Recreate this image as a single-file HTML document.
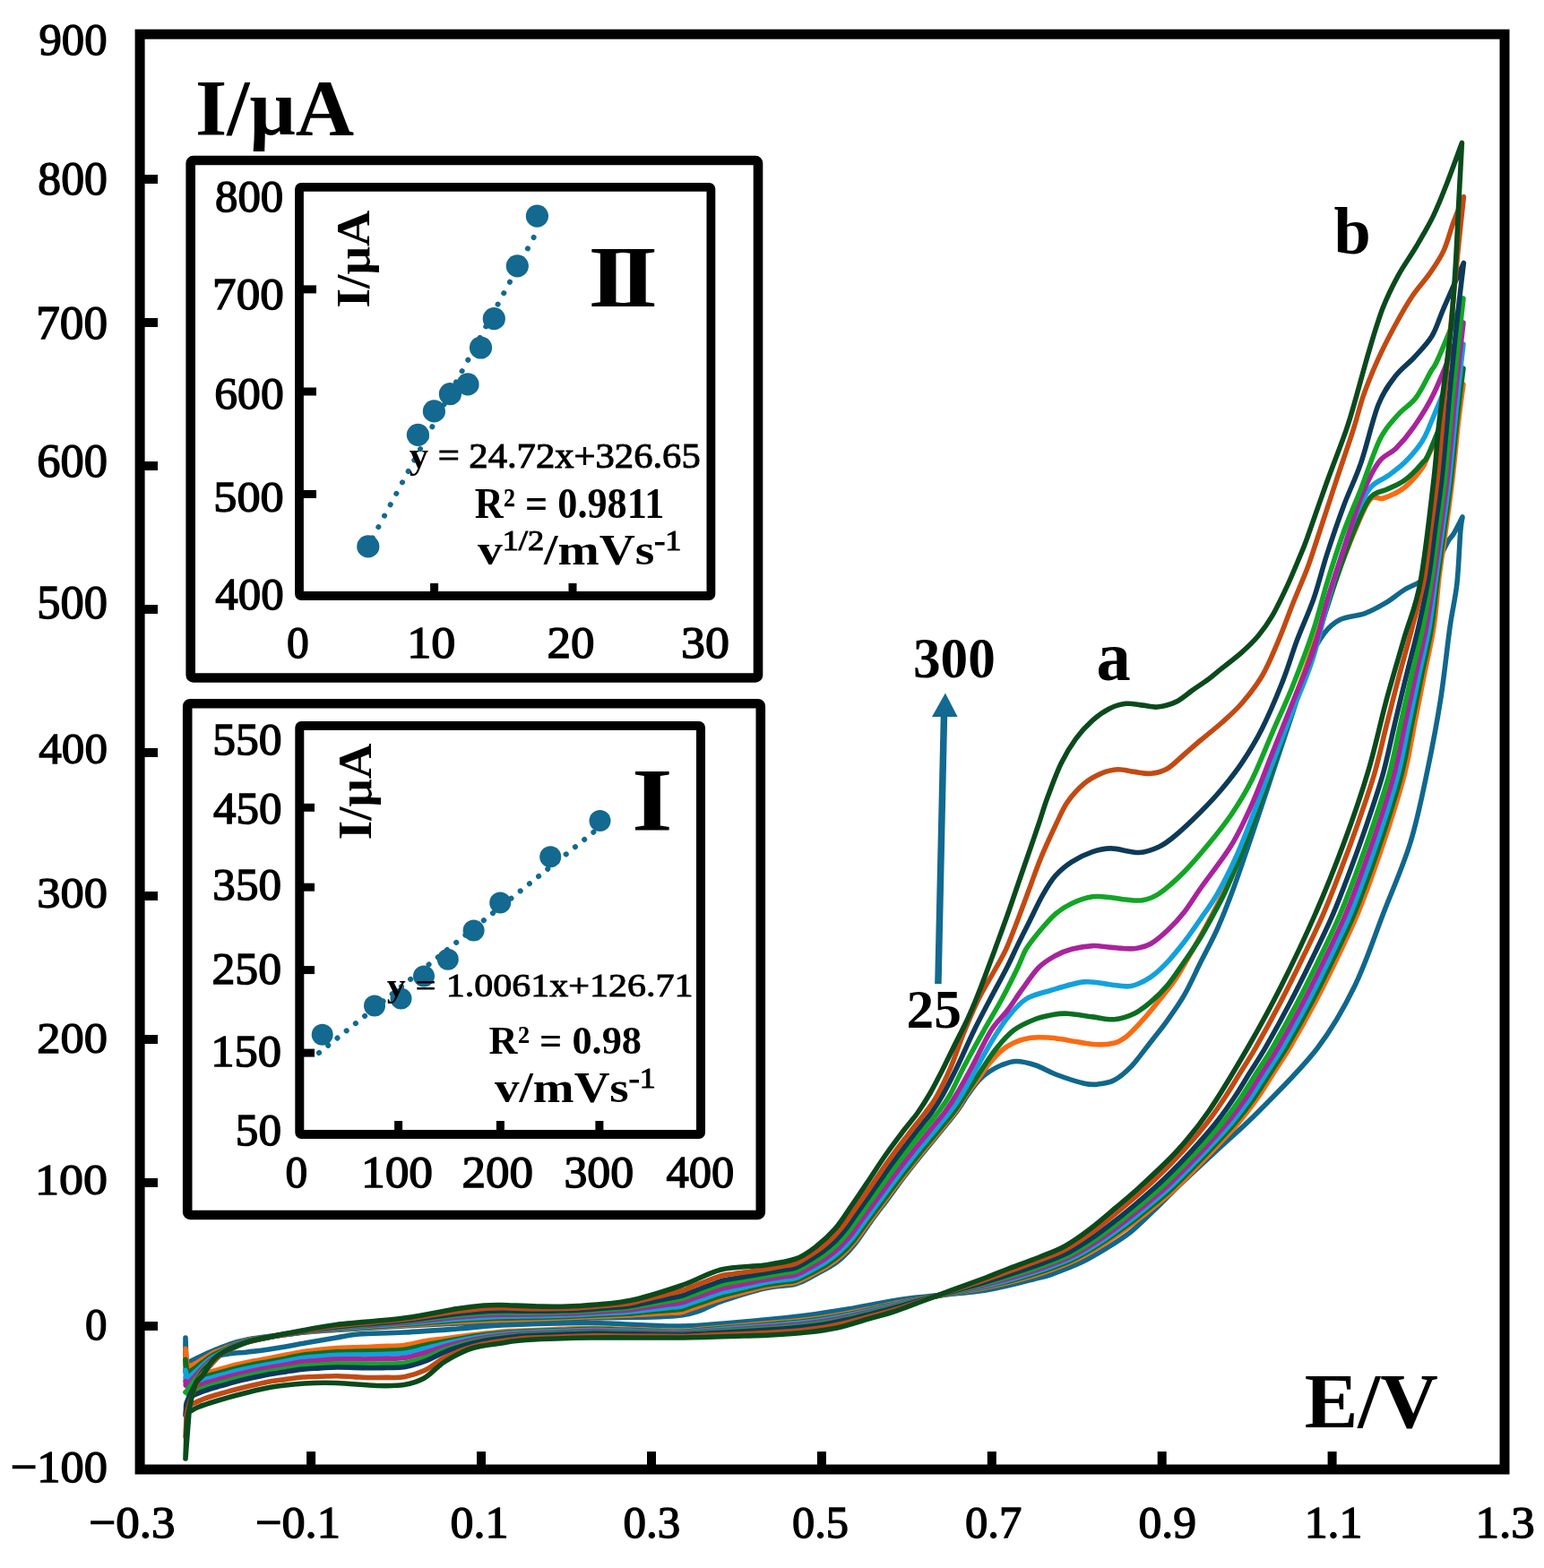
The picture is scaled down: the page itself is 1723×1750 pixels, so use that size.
<!DOCTYPE html><html><head><meta charset="utf-8"><title>CV</title><style>html,body{margin:0;padding:0;background:#fff;}svg{display:block;}text{font-family:"Liberation Serif","DejaVu Serif",serif;fill:#000;}</style></head><body>
<svg width="1723" height="1750" viewBox="0 0 1723 1750">
<rect x="0" y="0" width="1723" height="1750" fill="#fff"/>
<g fill="none" stroke-width="5.6" stroke-linejoin="round" stroke-linecap="round">
<path d="M207.0,1493.0 C207.1,1497.7 206.5,1516.7 207.5,1521.0 C208.5,1525.3 207.4,1521.5 213.0,1519.0 C218.6,1516.5 230.5,1510.0 241.0,1506.0 C251.5,1502.0 259.5,1498.2 276.0,1495.0 C292.5,1491.8 319.3,1489.0 340.0,1487.0 C360.7,1485.0 381.5,1484.2 400.0,1483.0 C418.5,1481.8 432.5,1481.0 451.0,1480.0 C469.5,1479.0 492.8,1477.8 511.0,1477.0 C529.2,1476.2 535.2,1476.0 560.0,1475.0 C584.8,1474.0 626.7,1472.2 660.0,1471.0 C693.3,1469.8 735.7,1471.2 760.0,1468.0 C784.3,1464.8 790.5,1457.0 806.0,1452.0 C821.5,1447.0 839.3,1441.2 853.0,1438.0 C866.7,1434.8 878.3,1435.7 888.0,1433.0 C897.7,1430.3 903.3,1426.1 911.0,1422.0 C918.7,1417.9 927.0,1413.9 934.0,1408.6 C941.0,1403.3 946.5,1397.4 952.7,1390.0 C958.9,1382.6 965.1,1372.5 971.3,1364.0 C977.5,1355.5 983.8,1347.3 990.0,1339.0 C996.2,1330.7 1001.9,1322.5 1008.4,1314.0 C1014.9,1305.5 1021.7,1297.0 1029.0,1288.0 C1036.3,1279.0 1045.5,1268.0 1052.0,1260.0 C1058.5,1252.0 1063.3,1246.3 1068.0,1240.0 C1072.7,1233.7 1076.0,1227.7 1080.0,1222.0 C1084.0,1216.3 1088.0,1210.3 1092.0,1206.0 C1096.0,1201.7 1099.8,1198.8 1104.0,1196.0 C1108.2,1193.2 1112.0,1190.9 1117.0,1189.0 C1122.0,1187.1 1127.5,1184.5 1134.0,1184.5 C1140.5,1184.5 1148.7,1186.6 1156.0,1189.0 C1163.3,1191.4 1169.0,1195.6 1178.0,1199.0 C1187.0,1202.4 1202.2,1207.4 1210.0,1209.2 C1217.8,1211.0 1219.3,1210.7 1224.9,1210.1 C1230.5,1209.5 1237.2,1208.8 1243.4,1205.5 C1249.6,1202.2 1255.2,1197.7 1262.0,1190.6 C1268.8,1183.5 1277.5,1171.4 1284.3,1162.7 C1291.1,1154.0 1296.7,1147.3 1302.9,1138.6 C1309.1,1129.9 1315.3,1121.5 1321.5,1110.7 C1327.7,1099.9 1333.8,1086.0 1340.0,1073.6 C1346.2,1061.2 1352.4,1050.3 1358.6,1036.4 C1364.8,1022.5 1370.6,1007.5 1377.0,990.0 C1383.4,972.5 1390.0,952.8 1397.2,931.6 C1404.4,910.4 1412.4,885.9 1420.0,863.0 C1427.6,840.1 1436.0,815.4 1442.9,794.4 C1449.8,773.4 1455.5,751.7 1461.2,737.2 C1466.9,722.7 1471.5,715.1 1477.2,707.5 C1482.9,699.9 1487.9,695.3 1495.5,691.5 C1503.1,687.7 1514.6,687.6 1523.0,684.6 C1531.4,681.6 1538.4,677.6 1545.8,673.2 C1553.2,668.8 1560.3,662.5 1567.5,658.0 C1574.7,653.5 1582.7,651.8 1588.9,646.3 C1595.2,640.8 1600.5,632.0 1605.0,625.0 C1609.5,618.0 1613.2,608.8 1616.0,604.0 C1618.8,599.2 1619.3,600.5 1622.0,596.0 C1624.7,591.5 1630.3,580.2 1632.0,577.0 L1632.0,577.0 C1631.6,579.8 1630.7,581.5 1629.7,594.0 C1628.7,606.5 1627.8,634.3 1625.8,652.0 C1623.8,669.7 1621.0,678.7 1618.0,700.0 C1615.0,721.3 1611.9,753.3 1607.7,780.0 C1603.5,806.7 1598.5,833.3 1592.9,860.0 C1587.3,886.7 1582.2,913.3 1574.0,940.0 C1565.8,966.7 1553.8,993.3 1543.5,1020.0 C1533.2,1046.7 1524.2,1075.0 1512.0,1100.0 C1499.8,1125.0 1487.8,1146.7 1470.0,1170.0 C1452.2,1193.3 1423.2,1221.5 1405.0,1240.0 C1386.8,1258.5 1375.7,1267.3 1361.0,1281.0 C1346.3,1294.7 1329.3,1310.2 1317.0,1322.0 C1304.7,1333.8 1296.2,1342.7 1287.0,1351.5 C1277.8,1360.3 1270.8,1367.7 1262.0,1374.7 C1253.2,1381.7 1243.6,1387.6 1234.3,1393.3 C1225.0,1399.0 1216.5,1404.2 1206.4,1409.0 C1196.3,1413.8 1181.6,1419.2 1173.9,1422.0 C1166.2,1424.8 1172.3,1423.0 1160.0,1426.0 C1147.7,1429.0 1124.2,1436.2 1100.0,1440.0 C1075.8,1443.8 1040.7,1445.5 1015.0,1449.0 C989.3,1452.5 965.2,1457.8 946.0,1461.0 C926.8,1464.2 915.5,1466.0 900.0,1468.0 C884.5,1470.0 876.3,1471.0 853.0,1473.0 C829.7,1475.0 792.2,1479.4 760.0,1480.0 C727.8,1480.6 693.3,1476.7 660.0,1476.5 C626.7,1476.3 584.8,1477.9 560.0,1479.0 C535.2,1480.1 529.2,1481.7 511.0,1483.0 C492.8,1484.3 469.5,1486.0 451.0,1487.0 C432.5,1488.0 412.7,1488.0 400.0,1489.0 C387.3,1490.0 385.0,1491.3 375.0,1493.0 C365.0,1494.7 352.5,1496.8 340.0,1499.0 C327.5,1501.2 310.7,1504.3 300.0,1506.0 C289.3,1507.7 282.8,1508.2 276.0,1509.0 C269.2,1509.8 265.7,1509.7 259.0,1510.5 C252.3,1511.3 243.3,1512.6 236.0,1514.0 C228.7,1515.4 219.7,1517.5 215.0,1519.0 C210.3,1520.5 209.2,1522.3 208.0,1523.0 L207,1493.0" stroke="#10678c"/>
<path d="M207.0,1505.2 C207.0,1506.8 207.2,1511.9 207.3,1515.3 C207.4,1518.6 206.0,1524.1 207.5,1525.4 C209.1,1526.6 213.1,1524.1 216.4,1522.6 C219.7,1521.0 223.6,1518.3 227.3,1516.2 C230.9,1514.0 234.4,1511.7 238.3,1509.8 C242.1,1507.9 246.3,1506.6 250.3,1505.0 C254.3,1503.4 258.2,1501.7 262.2,1500.2 C266.3,1498.7 270.5,1497.1 274.7,1496.1 C279.0,1495.0 283.3,1494.6 287.7,1493.9 C292.0,1493.2 296.4,1492.7 300.7,1492.1 C305.1,1491.5 309.4,1490.8 313.8,1490.3 C318.2,1489.7 322.5,1489.1 326.9,1488.5 C331.3,1487.9 335.0,1487.3 340.0,1486.8 C345.0,1486.2 351.3,1485.9 356.9,1485.4 C362.5,1485.0 368.2,1484.6 373.8,1484.1 C379.4,1483.7 385.1,1483.3 390.7,1483.0 C396.4,1482.6 402.0,1482.2 407.6,1481.8 C413.3,1481.5 418.9,1481.1 424.6,1480.8 C430.2,1480.4 435.9,1480.1 441.5,1479.7 C447.1,1479.3 452.8,1479.0 458.4,1478.6 C464.1,1478.3 469.7,1477.9 475.3,1477.6 C481.0,1477.2 486.6,1476.9 492.3,1476.5 C497.9,1476.2 503.5,1475.8 509.2,1475.5 C514.8,1475.1 520.5,1474.9 526.1,1474.6 C531.8,1474.3 537.4,1474.1 543.1,1473.8 C548.7,1473.6 554.6,1473.3 560.0,1473.2 C565.4,1473.0 570.3,1472.8 575.4,1472.7 C580.5,1472.5 585.7,1472.3 590.8,1472.2 C596.0,1472.0 601.1,1471.8 606.2,1471.6 C611.4,1471.4 616.5,1471.3 621.6,1471.1 C626.8,1470.9 631.9,1470.7 637.1,1470.5 C642.2,1470.3 647.3,1470.1 652.5,1469.8 C657.6,1469.6 662.7,1469.4 667.9,1469.2 C673.0,1469.0 678.1,1468.8 683.3,1468.6 C688.4,1468.4 693.6,1468.3 698.7,1468.0 C703.8,1467.8 708.9,1467.5 714.0,1467.2 C719.2,1466.9 724.3,1466.6 729.4,1466.4 C734.5,1466.1 739.6,1465.8 744.7,1465.5 C749.9,1465.2 755.9,1465.3 760.1,1464.7 C764.3,1464.0 766.5,1462.4 769.7,1461.3 C773.0,1460.2 776.2,1459.1 779.4,1458.0 C782.6,1456.9 785.8,1455.8 789.0,1454.7 C792.2,1453.6 795.4,1452.5 798.7,1451.4 C801.9,1450.3 805.1,1449.3 808.4,1448.3 C811.6,1447.3 814.9,1446.5 818.2,1445.6 C821.5,1444.7 824.7,1443.8 828.0,1442.9 C831.3,1442.0 834.6,1441.1 837.9,1440.2 C841.1,1439.3 844.4,1438.3 847.7,1437.5 C851.0,1436.7 854.3,1436.0 857.6,1435.4 C861.0,1434.8 864.4,1434.5 867.8,1434.0 C871.1,1433.5 874.5,1433.1 877.9,1432.6 C881.3,1432.1 883.3,1432.9 888.0,1431.2 C892.7,1429.5 900.3,1425.5 906.3,1422.4 C912.3,1419.3 918.4,1416.2 924.0,1412.5 C929.7,1408.8 935.1,1404.8 940.1,1400.3 C945.1,1395.8 949.7,1390.8 954.0,1385.5 C958.4,1380.3 961.9,1374.5 965.9,1369.0 C970.0,1363.5 974.0,1358.1 978.1,1352.6 C982.1,1347.2 986.2,1341.8 990.3,1336.3 C994.4,1330.9 998.3,1325.3 1002.5,1319.9 C1006.6,1314.5 1010.7,1309.1 1015.0,1303.7 C1019.2,1298.3 1023.4,1293.0 1027.7,1287.7 C1032.0,1282.4 1036.4,1277.2 1040.8,1271.9 C1045.1,1266.6 1049.5,1261.4 1053.8,1256.0 C1058.1,1250.7 1062.5,1245.9 1066.7,1240.1 C1070.9,1234.2 1074.6,1227.3 1079.0,1221.0 C1083.4,1214.7 1088.8,1207.7 1093.0,1202.0 C1097.2,1196.3 1100.0,1191.8 1104.0,1187.0 C1108.0,1182.2 1112.5,1176.8 1117.0,1173.0 C1121.5,1169.2 1125.5,1166.5 1131.0,1164.0 C1136.5,1161.5 1143.5,1159.3 1150.0,1158.3 C1156.5,1157.3 1163.1,1157.6 1170.0,1158.0 C1176.9,1158.4 1183.2,1159.7 1191.4,1160.9 C1199.6,1162.2 1210.9,1164.9 1219.3,1165.5 C1227.7,1166.1 1235.4,1166.0 1241.6,1164.6 C1247.8,1163.2 1250.9,1161.5 1256.5,1157.2 C1262.1,1152.9 1268.8,1145.4 1275.0,1138.6 C1281.2,1131.8 1287.4,1124.0 1293.6,1116.3 C1299.8,1108.6 1306.0,1101.5 1312.2,1092.2 C1318.4,1082.9 1324.5,1071.4 1330.7,1060.6 C1336.9,1049.8 1343.1,1038.9 1349.3,1027.1 C1355.5,1015.3 1361.1,1005.4 1367.9,990.0 C1374.7,974.6 1383.0,953.3 1390.0,935.0 C1397.0,916.7 1403.3,898.8 1410.0,880.0 C1416.7,861.2 1423.3,841.2 1430.0,822.0 C1436.7,802.8 1443.3,784.0 1450.0,765.0 C1456.7,746.0 1463.3,727.5 1470.0,708.0 C1476.7,688.5 1483.3,666.5 1490.0,648.0 C1496.7,629.5 1503.6,612.0 1510.0,597.0 C1516.4,582.0 1522.9,564.8 1528.6,558.0 C1534.3,551.2 1537.6,558.3 1544.1,556.0 C1550.6,553.7 1560.4,549.6 1567.5,544.0 C1574.6,538.4 1582.4,528.7 1586.9,522.5 C1591.4,516.3 1587.0,522.6 1594.7,507.0 C1602.4,491.4 1626.6,442.0 1633.0,429.0 L1633.0,429.0 C1632.8,430.7 1632.1,435.8 1631.6,439.2 C1631.1,442.6 1630.7,446.0 1630.2,449.4 C1629.8,452.8 1629.3,456.2 1628.9,459.6 C1628.4,463.0 1628.0,466.4 1627.6,469.8 C1627.2,473.2 1627.6,469.1 1626.5,480.0 C1625.4,490.9 1623.0,516.7 1620.8,535.1 C1618.7,553.4 1616.1,571.6 1613.6,589.9 C1611.1,608.2 1608.2,626.4 1605.9,644.7 C1603.7,663.0 1602.8,681.5 1600.0,699.8 C1597.2,718.0 1592.8,735.9 1589.2,754.0 C1585.6,772.1 1582.1,790.3 1578.5,808.4 C1574.9,826.5 1572.1,844.7 1567.7,862.6 C1563.3,880.5 1557.7,898.2 1552.1,915.7 C1546.6,933.3 1540.6,950.8 1534.4,968.2 C1528.3,985.5 1522.1,1003.0 1515.0,1020.0 C1507.9,1037.0 1499.8,1053.6 1491.8,1070.2 C1483.8,1086.8 1475.6,1103.4 1467.0,1119.7 C1458.4,1136.0 1447.6,1155.1 1440.0,1168.0 C1432.4,1180.9 1427.6,1187.3 1421.5,1197.0 C1415.3,1206.7 1409.5,1216.7 1402.9,1226.0 C1396.4,1235.4 1389.3,1244.4 1382.0,1253.1 C1374.6,1261.9 1366.6,1270.2 1358.7,1278.5 C1350.8,1286.9 1342.8,1295.1 1334.8,1303.2 C1326.7,1311.4 1318.9,1319.8 1310.4,1327.6 C1302.0,1335.3 1293.1,1342.6 1284.2,1349.8 C1275.3,1357.1 1266.2,1364.1 1257.0,1370.9 C1247.7,1377.6 1238.3,1384.3 1228.6,1390.3 C1218.8,1396.3 1208.9,1402.2 1198.6,1407.0 C1188.2,1411.9 1177.3,1415.8 1166.5,1419.5 C1155.7,1423.2 1144.6,1426.5 1133.6,1429.4 C1122.5,1432.3 1109.9,1434.9 1100.0,1437.0 C1090.1,1439.1 1082.7,1440.3 1074.0,1441.8 C1065.3,1443.3 1056.6,1444.8 1047.9,1446.2 C1039.2,1447.7 1030.5,1449.0 1021.8,1450.5 C1013.1,1452.0 1004.5,1453.5 995.8,1455.3 C987.2,1457.0 978.6,1459.0 969.9,1460.8 C961.3,1462.6 952.7,1464.4 944.0,1466.0 C935.3,1467.6 926.7,1469.1 917.9,1470.4 C909.2,1471.7 900.5,1472.8 891.7,1473.7 C883.0,1474.7 874.2,1475.3 865.4,1476.1 C856.6,1476.9 847.8,1477.7 839.0,1478.4 C830.2,1479.2 821.5,1480.0 812.7,1480.8 C803.9,1481.6 795.1,1482.4 786.3,1483.1 C777.6,1483.9 768.4,1485.2 760.0,1485.5 C751.6,1485.8 744.1,1484.9 736.1,1484.7 C728.2,1484.4 720.2,1484.1 712.3,1483.8 C704.3,1483.6 696.4,1483.3 688.4,1483.0 C680.5,1482.7 672.5,1482.2 664.6,1482.2 C656.6,1482.1 648.7,1482.5 640.7,1482.8 C632.8,1483.0 624.8,1483.4 616.9,1483.7 C608.9,1484.0 601.0,1484.4 593.0,1484.7 C585.1,1485.0 577.1,1485.1 569.2,1485.6 C561.3,1486.1 553.3,1486.9 545.4,1487.7 C537.5,1488.5 529.6,1489.6 521.7,1490.6 C513.8,1491.6 506.0,1492.7 498.1,1493.7 C490.2,1494.8 482.2,1495.5 474.4,1496.8 C466.6,1498.1 458.0,1500.6 451.0,1501.5 C444.0,1502.4 438.4,1502.1 432.1,1502.4 C425.9,1502.7 419.6,1503.0 413.3,1503.2 C407.0,1503.5 400.7,1503.6 394.4,1503.9 C388.1,1504.1 381.8,1504.1 375.5,1504.5 C369.3,1504.9 363.0,1505.7 356.8,1506.3 C350.5,1507.0 344.2,1507.4 338.0,1508.4 C331.8,1509.4 325.7,1510.9 319.5,1512.1 C313.3,1513.3 307.1,1514.6 301.0,1515.8 C294.8,1517.0 288.6,1517.9 282.4,1519.1 C276.2,1520.4 270.1,1521.7 264.0,1523.1 C257.8,1524.6 251.8,1526.3 245.7,1528.0 C239.6,1529.7 233.5,1531.1 227.5,1533.1 C221.6,1535.1 212.9,1538.9 210.0,1540.0 L207,1505.2" stroke="#fb6a12"/>
<path d="M207.0,1517.3 C207.1,1518.5 207.2,1522.3 207.3,1524.8 C207.4,1527.3 206.2,1531.7 207.6,1532.2 C209.0,1532.7 212.8,1529.9 215.8,1528.0 C218.9,1526.0 222.6,1523.0 226.0,1520.5 C229.4,1518.1 232.7,1515.4 236.4,1513.2 C240.1,1511.0 244.3,1509.4 248.2,1507.5 C252.2,1505.6 255.9,1503.4 260.0,1501.7 C264.1,1500.0 268.4,1498.4 272.8,1497.2 C277.1,1496.0 281.5,1495.3 286.0,1494.5 C290.4,1493.7 294.9,1493.1 299.4,1492.4 C303.9,1491.7 308.4,1491.0 312.9,1490.3 C317.4,1489.7 321.9,1489.1 326.5,1488.4 C331.0,1487.8 334.9,1487.1 340.0,1486.5 C345.1,1485.9 351.3,1485.5 356.9,1485.0 C362.5,1484.5 368.2,1484.0 373.8,1483.6 C379.4,1483.1 385.1,1482.7 390.7,1482.3 C396.4,1481.9 402.0,1481.5 407.6,1481.1 C413.3,1480.7 418.9,1480.3 424.6,1480.0 C430.2,1479.6 435.9,1479.2 441.5,1478.8 C447.2,1478.4 452.8,1478.0 458.4,1477.6 C464.1,1477.2 469.7,1476.8 475.3,1476.4 C481.0,1476.0 486.6,1475.5 492.3,1475.1 C497.9,1474.7 503.5,1474.2 509.2,1473.8 C514.8,1473.5 520.4,1473.2 526.1,1472.8 C531.7,1472.5 537.4,1472.2 543.0,1471.9 C548.7,1471.7 554.6,1471.5 560.0,1471.3 C565.4,1471.1 570.3,1471.1 575.4,1470.9 C580.6,1470.8 585.7,1470.7 590.9,1470.6 C596.0,1470.4 601.2,1470.3 606.3,1470.1 C611.5,1469.9 616.6,1469.8 621.8,1469.6 C626.9,1469.4 632.1,1469.3 637.2,1469.1 C642.3,1468.9 647.5,1468.6 652.6,1468.4 C657.8,1468.1 662.9,1467.8 668.1,1467.6 C673.2,1467.4 678.3,1467.1 683.5,1466.9 C688.6,1466.7 693.8,1466.5 698.9,1466.2 C704.0,1465.9 709.1,1465.5 714.2,1465.1 C719.4,1464.6 724.5,1464.2 729.6,1463.8 C734.7,1463.4 739.8,1463.0 744.9,1462.6 C750.0,1462.1 756.0,1462.1 760.2,1461.3 C764.4,1460.5 766.6,1459.1 769.8,1458.0 C773.0,1456.9 776.2,1455.8 779.4,1454.8 C782.6,1453.7 785.8,1452.6 789.0,1451.5 C792.2,1450.4 795.4,1449.3 798.7,1448.2 C801.9,1447.2 805.1,1446.1 808.3,1445.2 C811.6,1444.3 814.9,1443.6 818.2,1442.8 C821.5,1442.0 824.8,1441.2 828.0,1440.3 C831.3,1439.5 834.6,1438.7 837.9,1437.9 C841.2,1437.1 844.4,1436.1 847.7,1435.4 C851.0,1434.6 854.4,1434.0 857.7,1433.4 C861.0,1432.8 864.4,1432.5 867.8,1432.0 C871.2,1431.5 874.5,1431.1 877.9,1430.6 C881.3,1430.1 883.3,1430.9 888.0,1429.2 C892.7,1427.5 900.1,1423.6 906.0,1420.5 C911.9,1417.4 917.9,1414.3 923.4,1410.7 C929.0,1407.0 934.3,1403.1 939.3,1398.6 C944.2,1394.2 948.8,1389.2 953.0,1384.1 C957.3,1379.0 960.8,1373.2 964.8,1367.8 C968.8,1362.4 972.8,1357.0 976.8,1351.7 C980.8,1346.3 984.9,1340.9 988.9,1335.5 C993.0,1330.1 996.9,1324.7 1001.0,1319.3 C1005.1,1313.9 1009.2,1308.6 1013.4,1303.3 C1017.6,1297.9 1021.8,1292.6 1026.1,1287.4 C1030.3,1282.1 1034.7,1277.0 1039.0,1271.7 C1043.4,1266.5 1047.7,1261.3 1052.0,1256.0 C1056.3,1250.7 1060.8,1245.8 1064.9,1240.1 C1069.1,1234.5 1071.8,1229.9 1077.0,1222.0 C1082.2,1214.1 1090.2,1201.7 1096.0,1193.0 C1101.8,1184.3 1106.2,1177.2 1112.0,1170.0 C1117.8,1162.8 1124.0,1155.3 1131.0,1150.0 C1138.0,1144.7 1146.7,1140.9 1154.0,1138.0 C1161.3,1135.1 1168.8,1133.6 1175.0,1132.5 C1181.2,1131.4 1184.0,1130.8 1191.4,1131.2 C1198.8,1131.6 1210.6,1133.8 1219.3,1134.9 C1228.0,1136.0 1235.7,1138.3 1243.4,1137.7 C1251.1,1137.1 1258.9,1134.5 1265.7,1131.2 C1272.5,1128.0 1278.1,1123.5 1284.3,1118.2 C1290.5,1112.9 1296.7,1107.0 1302.9,1099.6 C1309.1,1092.2 1315.3,1082.6 1321.5,1073.6 C1327.7,1064.6 1333.8,1055.9 1340.0,1045.7 C1346.2,1035.5 1353.6,1021.6 1358.6,1012.3 C1363.5,1003.0 1364.5,1002.0 1369.7,990.0 C1374.9,978.0 1383.3,957.5 1390.0,940.0 C1396.7,922.5 1403.3,903.7 1410.0,885.0 C1416.7,866.3 1423.3,847.2 1430.0,828.0 C1436.7,808.8 1443.3,789.3 1450.0,770.0 C1456.7,750.7 1463.3,732.0 1470.0,712.0 C1476.7,692.0 1483.3,669.5 1490.0,650.0 C1496.7,630.5 1503.6,610.7 1510.0,595.0 C1516.4,579.3 1522.3,564.2 1528.6,556.0 C1534.9,547.8 1541.5,549.3 1548.0,546.0 C1554.5,542.7 1561.0,540.8 1567.5,536.0 C1574.0,531.2 1582.1,522.8 1586.9,517.0 C1591.8,511.2 1588.9,518.7 1596.6,501.0 C1604.3,483.3 1626.9,426.0 1633.0,411.0 L1633.0,411.0 C1632.7,413.3 1631.8,420.2 1631.2,424.8 C1630.6,429.4 1630.0,434.0 1629.5,438.6 C1628.9,443.2 1628.3,447.8 1627.8,452.4 C1627.2,457.0 1626.7,461.6 1626.2,466.2 C1625.7,470.8 1625.9,468.5 1624.8,480.0 C1623.6,491.5 1621.3,516.8 1619.2,535.1 C1617.0,553.5 1614.4,571.7 1611.9,590.0 C1609.4,608.3 1606.7,626.6 1604.3,644.9 C1601.9,663.2 1600.6,681.6 1597.6,699.8 C1594.7,718.0 1590.1,736.0 1586.4,754.1 C1582.7,772.2 1579.1,790.3 1575.4,808.4 C1571.8,826.5 1568.9,844.7 1564.4,862.6 C1559.9,880.5 1554.2,898.2 1548.6,915.7 C1543.0,933.3 1537.0,950.8 1530.8,968.2 C1524.5,985.5 1518.4,1003.0 1511.2,1020.0 C1504.1,1037.0 1495.9,1053.6 1487.9,1070.3 C1479.9,1086.9 1471.8,1103.5 1463.1,1119.8 C1454.5,1136.1 1443.7,1155.3 1436.2,1168.2 C1428.6,1181.0 1423.9,1187.3 1417.8,1196.9 C1411.6,1206.5 1405.9,1216.4 1399.4,1225.7 C1392.9,1235.0 1386.0,1244.0 1378.7,1252.7 C1371.4,1261.4 1363.5,1269.6 1355.7,1277.9 C1348.0,1286.2 1340.0,1294.4 1332.1,1302.5 C1324.1,1310.6 1316.2,1318.9 1307.9,1326.6 C1299.5,1334.3 1290.7,1341.5 1281.9,1348.7 C1273.1,1355.8 1264.2,1362.8 1255.0,1369.6 C1245.9,1376.3 1236.6,1382.9 1227.0,1388.9 C1217.4,1395.0 1207.6,1400.8 1197.4,1405.6 C1187.2,1410.5 1176.4,1414.3 1165.7,1418.1 C1154.9,1421.8 1144.0,1425.1 1133.1,1428.1 C1122.2,1431.0 1109.8,1433.8 1100.0,1436.0 C1090.2,1438.1 1082.7,1439.5 1074.1,1441.2 C1065.4,1442.9 1056.7,1444.4 1048.1,1446.1 C1039.4,1447.7 1030.7,1449.2 1022.1,1450.8 C1013.4,1452.5 1004.8,1454.2 996.1,1456.1 C987.5,1457.9 978.9,1459.9 970.3,1461.8 C961.6,1463.7 953.0,1465.6 944.3,1467.2 C935.7,1468.9 927.0,1470.4 918.3,1471.8 C909.5,1473.1 900.8,1474.2 892.0,1475.2 C883.2,1476.1 874.4,1476.7 865.6,1477.5 C856.8,1478.3 848.0,1479.0 839.2,1479.7 C830.4,1480.5 821.6,1481.2 812.8,1481.9 C804.0,1482.7 795.2,1483.4 786.4,1484.1 C777.6,1484.9 768.4,1486.1 760.0,1486.3 C751.6,1486.6 744.0,1485.8 736.1,1485.6 C728.1,1485.3 720.1,1485.1 712.1,1484.8 C704.1,1484.6 696.1,1484.3 688.2,1484.1 C680.2,1483.8 672.2,1483.4 664.2,1483.4 C656.2,1483.3 648.3,1483.7 640.3,1484.0 C632.3,1484.2 624.3,1484.6 616.3,1484.9 C608.4,1485.2 600.4,1485.5 592.4,1485.9 C584.4,1486.2 576.4,1486.5 568.5,1487.1 C560.5,1487.6 552.6,1488.4 544.7,1489.4 C536.7,1490.3 528.9,1491.5 521.0,1492.7 C513.2,1494.0 505.3,1495.4 497.6,1496.8 C489.8,1498.3 482.1,1499.7 474.4,1501.3 C466.6,1502.9 458.0,1505.4 451.0,1506.3 C444.0,1507.3 438.4,1507.0 432.1,1507.2 C425.9,1507.5 419.6,1507.7 413.3,1507.9 C407.0,1508.1 400.7,1508.2 394.4,1508.4 C388.1,1508.5 381.8,1508.4 375.6,1508.8 C369.3,1509.1 363.0,1509.8 356.8,1510.4 C350.5,1511.0 344.2,1511.4 338.0,1512.3 C331.8,1513.2 325.7,1514.7 319.5,1515.9 C313.3,1517.0 307.1,1518.3 300.9,1519.4 C294.8,1520.6 288.5,1521.6 282.4,1522.8 C276.2,1524.1 270.1,1525.4 264.0,1526.9 C257.9,1528.4 251.8,1530.1 245.7,1531.8 C239.7,1533.5 233.5,1535.0 227.6,1537.0 C221.7,1539.0 213.0,1542.8 210.1,1544.0 L207,1517.3" stroke="#0c6e22"/>
<path d="M207.0,1529.4 C207.1,1530.3 207.2,1532.7 207.4,1534.3 C207.5,1535.9 206.4,1539.2 207.7,1539.0 C209.0,1538.9 212.4,1535.8 215.2,1533.4 C218.0,1531.1 221.5,1527.7 224.7,1524.9 C227.9,1522.1 230.9,1519.1 234.5,1516.6 C238.1,1514.1 242.3,1512.2 246.2,1510.0 C250.1,1507.8 253.7,1505.2 257.8,1503.3 C261.9,1501.4 266.4,1499.7 270.8,1498.4 C275.2,1497.0 279.7,1496.0 284.3,1495.1 C288.8,1494.1 293.5,1493.5 298.1,1492.7 C302.8,1491.9 307.4,1491.2 312.0,1490.4 C316.7,1489.7 321.4,1489.0 326.0,1488.3 C330.7,1487.6 334.9,1486.9 340.0,1486.2 C345.1,1485.6 351.3,1485.2 356.9,1484.6 C362.5,1484.1 368.1,1483.5 373.8,1483.0 C379.4,1482.5 385.1,1482.1 390.7,1481.6 C396.4,1481.2 402.0,1480.8 407.6,1480.4 C413.3,1480.0 418.9,1479.6 424.6,1479.2 C430.2,1478.8 435.9,1478.4 441.5,1478.0 C447.2,1477.5 452.8,1477.1 458.5,1476.6 C464.1,1476.2 469.7,1475.7 475.3,1475.2 C481.0,1474.7 486.6,1474.2 492.2,1473.7 C497.9,1473.2 503.5,1472.7 509.1,1472.2 C514.8,1471.8 520.4,1471.4 526.1,1471.1 C531.7,1470.7 537.4,1470.3 543.0,1470.1 C548.7,1469.8 554.6,1469.6 560.0,1469.5 C565.4,1469.3 570.3,1469.3 575.5,1469.2 C580.6,1469.1 585.8,1469.0 590.9,1468.9 C596.1,1468.8 601.2,1468.7 606.4,1468.6 C611.6,1468.4 616.7,1468.3 621.9,1468.1 C627.0,1467.9 632.2,1467.8 637.3,1467.6 C642.5,1467.4 647.6,1467.2 652.8,1466.9 C657.9,1466.6 663.1,1466.3 668.2,1466.0 C673.4,1465.7 678.5,1465.5 683.7,1465.2 C688.8,1465.0 694.0,1464.8 699.1,1464.4 C704.3,1464.0 709.3,1463.4 714.4,1462.9 C719.5,1462.4 724.6,1461.8 729.7,1461.2 C734.8,1460.7 739.9,1460.1 745.0,1459.6 C750.1,1459.0 756.2,1458.8 760.3,1457.9 C764.4,1457.1 766.7,1455.7 769.9,1454.6 C773.1,1453.5 776.3,1452.4 779.5,1451.3 C782.7,1450.2 785.9,1449.1 789.0,1448.0 C792.2,1446.9 795.4,1445.8 798.6,1444.7 C801.8,1443.7 805.1,1442.6 808.3,1441.8 C811.6,1440.9 814.9,1440.3 818.2,1439.5 C821.5,1438.8 824.8,1438.0 828.1,1437.3 C831.4,1436.5 834.6,1435.7 837.9,1435.0 C841.2,1434.2 844.5,1433.4 847.8,1432.7 C851.1,1432.0 854.4,1431.3 857.8,1430.7 C861.1,1430.2 864.5,1429.8 867.8,1429.3 C871.2,1428.8 874.6,1428.3 877.9,1427.9 C881.3,1427.4 883.4,1428.1 888.0,1426.4 C892.6,1424.7 899.8,1420.8 905.5,1417.7 C911.3,1414.7 917.1,1411.6 922.5,1408.0 C927.9,1404.3 933.1,1400.4 937.9,1396.0 C942.7,1391.6 947.2,1386.7 951.3,1381.7 C955.5,1376.7 959.0,1371.1 962.9,1365.8 C966.8,1360.5 970.7,1355.2 974.6,1349.9 C978.5,1344.6 982.5,1339.3 986.4,1334.0 C990.3,1328.7 994.2,1323.4 998.2,1318.1 C1002.1,1312.8 1006.1,1307.6 1010.2,1302.3 C1014.3,1297.1 1018.4,1291.9 1022.5,1286.7 C1026.7,1281.6 1031.0,1276.5 1035.2,1271.3 C1039.4,1266.2 1043.7,1261.0 1047.9,1255.9 C1052.1,1250.7 1056.3,1246.0 1060.5,1240.3 C1064.7,1234.7 1067.9,1230.4 1073.0,1222.0 C1078.1,1213.6 1085.2,1200.3 1091.0,1190.0 C1096.8,1179.7 1102.3,1169.2 1108.0,1160.0 C1113.7,1150.8 1118.8,1142.5 1125.0,1135.0 C1131.2,1127.5 1137.0,1120.0 1145.0,1115.0 C1153.0,1110.0 1162.1,1108.4 1172.9,1105.2 C1183.7,1102.0 1199.2,1097.0 1210.0,1095.9 C1220.8,1094.8 1229.2,1097.9 1237.9,1098.7 C1246.6,1099.5 1254.3,1101.9 1262.0,1100.5 C1269.7,1099.1 1277.5,1094.8 1284.3,1090.3 C1291.1,1085.8 1296.7,1080.1 1302.9,1073.6 C1309.1,1067.1 1315.3,1059.3 1321.5,1051.3 C1327.7,1043.2 1333.8,1034.3 1340.0,1025.3 C1346.2,1016.3 1351.9,1009.1 1358.6,997.4 C1365.3,985.7 1373.1,970.4 1380.0,955.0 C1386.9,939.6 1393.3,922.2 1400.0,905.0 C1406.7,887.8 1412.8,870.8 1420.0,852.0 C1427.2,833.2 1435.5,811.5 1443.0,792.0 C1450.5,772.5 1458.0,757.0 1465.0,735.0 C1472.0,713.0 1477.6,685.1 1485.0,660.0 C1492.4,634.9 1501.9,603.2 1509.2,584.1 C1516.5,565.0 1522.1,554.0 1528.6,545.2 C1535.1,536.5 1541.5,536.5 1548.0,531.6 C1554.5,526.8 1561.0,522.6 1567.5,516.1 C1574.0,509.6 1581.7,500.8 1586.9,492.7 C1592.1,484.6 1590.9,485.6 1598.6,467.5 C1606.3,449.4 1627.3,397.9 1633.0,384.0 L1633.0,384.0 C1632.6,387.2 1631.5,396.8 1630.8,403.2 C1630.1,409.6 1629.3,416.0 1628.6,422.4 C1627.9,428.8 1627.2,435.2 1626.6,441.6 C1625.9,448.0 1625.2,454.4 1624.6,460.8 C1624.0,467.2 1624.1,467.6 1622.8,480.0 C1621.6,492.4 1619.4,516.8 1617.3,535.2 C1615.2,553.5 1612.5,571.8 1610.0,590.2 C1607.6,608.5 1604.9,626.8 1602.4,645.1 C1599.9,663.4 1598.1,681.7 1595.0,699.9 C1591.8,718.1 1587.2,736.0 1583.3,754.1 C1579.5,772.2 1575.8,790.3 1572.0,808.4 C1568.2,826.5 1565.2,844.8 1560.6,862.6 C1556.1,880.5 1550.3,898.2 1544.7,915.7 C1539.0,933.3 1532.9,950.8 1526.7,968.2 C1520.4,985.5 1514.1,1003.0 1507.0,1020.0 C1499.8,1037.0 1491.6,1053.7 1483.6,1070.3 C1475.6,1087.0 1467.4,1103.5 1458.8,1119.9 C1450.2,1136.2 1439.4,1155.5 1431.8,1168.3 C1424.3,1181.2 1419.7,1187.4 1413.7,1196.9 C1407.6,1206.4 1401.9,1216.1 1395.5,1225.4 C1389.1,1234.6 1382.3,1243.5 1375.2,1252.2 C1368.0,1260.9 1360.3,1269.1 1352.6,1277.3 C1344.9,1285.6 1337.1,1293.7 1329.2,1301.7 C1321.3,1309.7 1313.5,1317.9 1305.3,1325.5 C1297.0,1333.1 1288.3,1340.3 1279.6,1347.4 C1270.9,1354.6 1262.1,1361.5 1253.0,1368.2 C1244.0,1374.9 1234.9,1381.6 1225.4,1387.6 C1216.0,1393.6 1206.3,1399.5 1196.2,1404.3 C1186.1,1409.1 1175.4,1412.9 1164.8,1416.7 C1154.2,1420.4 1143.4,1423.7 1132.6,1426.7 C1121.8,1429.8 1109.8,1432.7 1100.0,1435.0 C1090.2,1437.3 1082.8,1438.8 1074.1,1440.6 C1065.5,1442.4 1056.9,1444.2 1048.2,1445.9 C1039.6,1447.7 1030.9,1449.4 1022.3,1451.2 C1013.7,1453.0 1005.0,1454.9 996.4,1456.8 C987.8,1458.7 979.2,1460.8 970.6,1462.7 C961.9,1464.6 953.3,1466.6 944.6,1468.3 C936.0,1470.1 927.3,1471.6 918.5,1473.0 C909.8,1474.3 901.0,1475.4 892.2,1476.4 C883.4,1477.4 874.6,1478.0 865.8,1478.7 C857.0,1479.4 848.2,1480.1 839.4,1480.8 C830.5,1481.5 821.7,1482.2 812.9,1482.9 C804.1,1483.6 795.3,1484.3 786.5,1485.0 C777.6,1485.6 768.4,1486.8 760.0,1487.0 C751.6,1487.2 744.0,1486.6 736.0,1486.3 C728.0,1486.1 720.0,1485.9 712.0,1485.7 C704.0,1485.4 695.9,1485.2 687.9,1485.0 C679.9,1484.8 671.9,1484.3 663.9,1484.3 C655.9,1484.3 647.9,1484.7 639.9,1485.0 C631.9,1485.2 623.9,1485.6 615.9,1485.9 C607.9,1486.2 599.9,1486.5 591.9,1486.8 C583.9,1487.2 575.9,1487.6 567.9,1488.2 C559.9,1488.9 551.9,1489.7 544.0,1490.7 C536.1,1491.8 528.2,1493.1 520.4,1494.5 C512.6,1496.0 504.8,1497.6 497.2,1499.4 C489.5,1501.1 482.1,1503.1 474.4,1504.9 C466.7,1506.8 458.0,1509.3 451.0,1510.3 C444.0,1511.3 438.4,1510.9 432.1,1511.2 C425.9,1511.4 419.6,1511.6 413.3,1511.8 C407.0,1511.9 400.7,1512.0 394.4,1512.0 C388.2,1512.1 381.9,1512.0 375.6,1512.3 C369.3,1512.6 363.1,1513.3 356.8,1513.8 C350.5,1514.4 344.2,1514.7 338.0,1515.6 C331.8,1516.4 325.6,1517.8 319.5,1518.9 C313.3,1520.1 307.1,1521.2 300.9,1522.4 C294.7,1523.5 288.5,1524.6 282.4,1525.9 C276.2,1527.1 270.1,1528.5 264.0,1530.0 C257.9,1531.5 251.8,1533.2 245.8,1534.9 C239.7,1536.6 233.6,1538.1 227.6,1540.1 C221.7,1542.2 213.1,1546.0 210.2,1547.2 L207,1529.4" stroke="#12a1dc"/>
<path d="M207.0,1541.6 C207.1,1542.0 207.3,1543.2 207.4,1544.0 C207.5,1544.7 206.6,1546.9 207.8,1546.1 C209.0,1545.3 212.0,1541.9 214.6,1539.1 C217.2,1536.4 220.3,1532.8 223.3,1529.6 C226.2,1526.5 229.0,1523.1 232.4,1520.3 C235.9,1517.5 240.1,1515.3 243.9,1512.7 C247.7,1510.2 251.2,1507.2 255.3,1505.0 C259.4,1502.9 264.1,1501.2 268.6,1499.7 C273.1,1498.1 277.7,1496.8 282.4,1495.7 C287.0,1494.6 291.9,1493.9 296.7,1493.1 C301.4,1492.2 306.2,1491.3 311.0,1490.5 C315.8,1489.7 320.7,1489.0 325.5,1488.2 C330.3,1487.5 334.8,1486.6 340.0,1486.0 C345.2,1485.3 351.3,1484.7 356.9,1484.1 C362.5,1483.5 368.1,1482.8 373.8,1482.2 C379.4,1481.7 385.1,1481.3 390.7,1480.8 C396.3,1480.4 402.0,1479.9 407.6,1479.5 C413.3,1479.1 418.9,1478.6 424.6,1478.2 C430.2,1477.8 435.9,1477.4 441.5,1476.9 C447.2,1476.5 452.8,1476.0 458.5,1475.5 C464.1,1474.9 469.7,1474.3 475.4,1473.7 C481.0,1473.1 486.6,1472.6 492.2,1472.0 C497.9,1471.4 503.5,1470.8 509.1,1470.3 C514.8,1469.8 520.4,1469.4 526.1,1469.0 C531.7,1468.5 537.4,1468.1 543.0,1467.8 C548.7,1467.5 554.6,1467.3 560.0,1467.2 C565.4,1467.1 570.3,1467.2 575.5,1467.1 C580.7,1467.1 585.8,1467.1 591.0,1467.0 C596.2,1466.9 601.3,1466.9 606.5,1466.8 C611.7,1466.6 616.8,1466.5 622.0,1466.3 C627.2,1466.2 632.3,1466.1 637.5,1465.9 C642.7,1465.7 647.8,1465.4 653.0,1465.1 C658.2,1464.8 663.3,1464.5 668.5,1464.1 C673.6,1463.8 678.8,1463.5 683.9,1463.2 C689.1,1462.9 694.3,1462.7 699.4,1462.2 C704.5,1461.8 709.6,1461.0 714.7,1460.3 C719.8,1459.6 724.9,1458.9 729.9,1458.2 C735.0,1457.5 740.1,1456.8 745.2,1456.0 C750.3,1455.3 756.3,1454.8 760.4,1453.9 C764.6,1453.0 766.8,1451.7 770.0,1450.6 C773.1,1449.4 776.3,1448.3 779.5,1447.2 C782.7,1446.1 785.9,1444.9 789.1,1443.8 C792.2,1442.7 795.4,1441.5 798.6,1440.5 C801.8,1439.4 805.0,1438.4 808.3,1437.5 C811.5,1436.7 814.9,1436.2 818.2,1435.5 C821.5,1434.8 824.8,1434.2 828.1,1433.5 C831.4,1432.8 834.7,1432.1 838.0,1431.4 C841.3,1430.7 844.6,1430.0 847.9,1429.3 C851.2,1428.7 854.5,1428.0 857.9,1427.5 C861.2,1426.9 864.5,1426.5 867.9,1426.0 C871.2,1425.4 874.6,1424.9 877.9,1424.4 C881.3,1423.9 883.5,1424.6 888.0,1422.9 C892.5,1421.2 899.4,1417.3 905.0,1414.3 C910.5,1411.2 916.2,1408.1 921.4,1404.5 C926.6,1401.0 931.6,1397.0 936.2,1392.7 C940.9,1388.4 945.1,1383.6 949.2,1378.7 C953.2,1373.8 956.7,1368.3 960.4,1363.2 C964.2,1358.0 968.0,1352.8 971.8,1347.7 C975.6,1342.5 979.4,1337.3 983.2,1332.2 C987.0,1327.0 990.7,1321.7 994.5,1316.6 C998.3,1311.4 1002.2,1306.3 1006.1,1301.1 C1010.0,1296.0 1014.0,1290.9 1018.0,1285.9 C1022.0,1280.8 1026.2,1275.8 1030.3,1270.8 C1034.3,1265.8 1038.4,1260.8 1042.5,1255.7 C1046.6,1250.7 1050.7,1246.2 1054.8,1240.6 C1058.9,1235.0 1062.0,1230.4 1067.0,1222.0 C1072.0,1213.6 1078.5,1202.0 1085.0,1190.0 C1091.5,1178.0 1099.5,1160.3 1106.0,1150.0 C1112.5,1139.7 1118.3,1135.5 1124.0,1128.0 C1129.7,1120.5 1134.2,1113.0 1140.0,1105.0 C1145.8,1097.0 1152.7,1086.4 1158.9,1080.0 C1165.2,1073.6 1171.3,1070.2 1177.5,1066.7 C1183.7,1063.2 1189.1,1061.2 1196.1,1059.3 C1203.1,1057.4 1212.0,1055.9 1219.3,1055.6 C1226.6,1055.3 1232.3,1056.9 1240.0,1057.4 C1247.7,1057.9 1258.3,1059.4 1265.7,1058.7 C1273.1,1058.0 1278.1,1056.6 1284.3,1053.2 C1290.5,1049.8 1296.7,1044.2 1302.9,1038.3 C1309.1,1032.4 1315.3,1025.8 1321.5,1017.9 C1327.7,1010.0 1331.2,1003.5 1340.0,991.0 C1348.8,978.5 1364.8,958.6 1374.3,943.0 C1383.8,927.4 1389.6,914.4 1397.2,897.3 C1404.8,880.1 1412.4,859.1 1420.0,840.1 C1427.6,821.1 1435.3,802.0 1442.9,783.0 C1450.5,764.0 1459.5,744.6 1465.8,725.8 C1472.1,707.0 1475.4,688.8 1481.0,670.0 C1486.6,651.2 1493.1,632.5 1499.4,613.3 C1505.7,594.1 1512.4,571.2 1518.9,555.0 C1525.4,538.8 1531.8,525.2 1538.3,516.1 C1544.8,507.0 1551.3,507.0 1557.8,500.5 C1564.3,494.0 1570.1,487.6 1577.2,477.2 C1584.3,466.8 1591.2,457.8 1600.5,438.3 C1609.8,418.8 1627.6,373.1 1633.0,360.0 L1633.0,360.0 C1632.5,364.0 1631.2,376.0 1630.3,384.0 C1629.4,392.0 1628.5,400.0 1627.6,408.0 C1626.7,416.0 1625.9,424.0 1625.0,432.0 C1624.2,440.0 1623.4,448.0 1622.6,456.0 C1621.9,464.0 1621.8,466.8 1620.5,480.0 C1619.2,493.2 1617.1,516.9 1615.0,535.3 C1612.9,553.6 1610.2,572.0 1607.7,590.3 C1605.3,608.6 1602.8,627.0 1600.2,645.3 C1597.5,663.6 1595.1,681.9 1591.7,700.0 C1588.3,718.2 1583.6,736.1 1579.6,754.2 C1575.6,772.2 1571.7,790.3 1567.8,808.4 C1563.9,826.5 1560.7,844.8 1556.1,862.7 C1551.4,880.5 1545.6,898.2 1539.8,915.7 C1534.1,933.3 1528.0,950.8 1521.6,968.2 C1515.3,985.6 1509.0,1003.0 1501.8,1020.0 C1494.6,1037.1 1486.4,1053.7 1478.3,1070.4 C1470.3,1087.0 1462.1,1103.6 1453.5,1120.0 C1444.9,1136.4 1434.0,1155.8 1426.6,1168.6 C1419.1,1181.4 1414.6,1187.4 1408.7,1196.8 C1402.7,1206.2 1397.1,1215.8 1390.8,1225.0 C1384.4,1234.1 1377.8,1243.0 1370.8,1251.6 C1363.8,1260.2 1356.2,1268.4 1348.7,1276.6 C1341.2,1284.8 1333.5,1292.8 1325.7,1300.7 C1317.9,1308.6 1310.2,1316.7 1302.0,1324.2 C1293.8,1331.7 1285.3,1338.8 1276.7,1345.9 C1268.1,1353.0 1259.4,1359.9 1250.6,1366.6 C1241.7,1373.2 1232.8,1379.9 1223.4,1385.9 C1214.1,1391.9 1204.7,1397.8 1194.7,1402.6 C1184.8,1407.4 1174.2,1411.2 1163.8,1414.9 C1153.3,1418.6 1142.7,1421.9 1132.1,1425.1 C1121.4,1428.2 1109.6,1431.2 1100.0,1433.7 C1090.4,1436.2 1082.8,1437.8 1074.2,1439.8 C1065.6,1441.8 1057.0,1443.8 1048.4,1445.7 C1039.8,1447.7 1031.2,1449.6 1022.6,1451.6 C1014.0,1453.6 1005.4,1455.7 996.8,1457.7 C988.2,1459.8 979.6,1461.9 970.9,1463.9 C962.3,1465.9 953.7,1468.0 945.0,1469.8 C936.4,1471.6 927.7,1473.2 918.9,1474.6 C910.2,1475.9 901.4,1477.1 892.6,1478.0 C883.7,1479.0 874.9,1479.6 866.1,1480.3 C857.2,1481.0 848.4,1481.6 839.6,1482.3 C830.7,1482.9 821.9,1483.6 813.0,1484.2 C804.2,1484.8 795.4,1485.4 786.5,1486.0 C777.7,1486.7 768.4,1487.7 760.0,1487.9 C751.6,1488.1 743.9,1487.5 735.9,1487.3 C727.8,1487.1 719.8,1487.0 711.8,1486.8 C703.7,1486.6 695.7,1486.4 687.6,1486.2 C679.6,1486.0 671.6,1485.6 663.5,1485.6 C655.5,1485.6 647.4,1486.0 639.4,1486.3 C631.4,1486.6 623.3,1486.9 615.3,1487.2 C607.3,1487.5 599.2,1487.7 591.2,1488.1 C583.2,1488.6 575.1,1489.1 567.1,1489.8 C559.1,1490.5 551.1,1491.4 543.2,1492.5 C535.3,1493.7 527.4,1495.2 519.7,1496.9 C511.9,1498.6 504.2,1500.6 496.6,1502.8 C489.1,1504.9 482.0,1507.7 474.4,1509.8 C466.8,1511.9 458.0,1514.5 451.0,1515.6 C444.0,1516.7 438.4,1516.2 432.2,1516.4 C425.9,1516.6 419.6,1516.8 413.3,1516.9 C407.0,1517.0 400.7,1516.9 394.5,1516.9 C388.2,1517.0 381.9,1516.7 375.6,1517.0 C369.3,1517.2 363.1,1517.8 356.8,1518.3 C350.6,1518.8 344.3,1519.1 338.0,1519.9 C331.8,1520.6 325.6,1522.0 319.5,1523.0 C313.3,1524.1 307.1,1525.2 300.9,1526.3 C294.7,1527.4 288.5,1528.6 282.4,1529.9 C276.2,1531.2 270.1,1532.6 264.0,1534.1 C257.9,1535.6 251.8,1537.3 245.8,1539.0 C239.7,1540.7 233.6,1542.2 227.7,1544.3 C221.8,1546.4 213.2,1550.3 210.3,1551.5 L207,1541.6" stroke="#a8249c"/>
<path d="M207.0,1553.8 C207.1,1553.7 207.3,1553.8 207.4,1553.7 C207.6,1553.7 206.8,1554.7 207.9,1553.3 C209.0,1551.8 211.6,1548.1 213.9,1544.9 C216.3,1541.8 219.1,1537.9 221.8,1534.5 C224.6,1531.0 227.0,1527.3 230.3,1524.1 C233.6,1521.0 237.9,1518.5 241.6,1515.6 C245.3,1512.7 248.5,1509.3 252.6,1506.9 C256.8,1504.4 261.6,1502.8 266.3,1501.0 C270.9,1499.3 275.5,1497.7 280.3,1496.4 C285.1,1495.2 290.1,1494.4 295.1,1493.5 C300.0,1492.5 304.9,1491.5 309.9,1490.6 C314.9,1489.7 319.9,1489.0 324.9,1488.1 C329.9,1487.3 334.7,1486.4 340.0,1485.6 C345.3,1484.9 351.2,1484.2 356.9,1483.5 C362.5,1482.9 368.1,1482.1 373.7,1481.5 C379.4,1480.9 385.0,1480.5 390.7,1480.0 C396.3,1479.5 402.0,1479.0 407.6,1478.6 C413.3,1478.1 419.0,1477.6 424.6,1477.2 C430.3,1476.7 435.9,1476.3 441.6,1475.8 C447.2,1475.3 452.9,1474.8 458.5,1474.2 C464.1,1473.5 469.7,1472.8 475.4,1472.2 C481.0,1471.5 486.6,1470.8 492.2,1470.2 C497.9,1469.5 503.5,1468.7 509.1,1468.2 C514.7,1467.6 520.4,1467.1 526.0,1466.7 C531.7,1466.2 537.3,1465.7 543.0,1465.4 C548.7,1465.1 554.6,1464.9 560.0,1464.8 C565.4,1464.7 570.4,1464.9 575.5,1464.9 C580.7,1464.9 585.9,1464.9 591.1,1464.9 C596.3,1464.9 601.4,1464.9 606.6,1464.8 C611.8,1464.7 617.0,1464.5 622.2,1464.4 C627.3,1464.3 632.5,1464.2 637.7,1464.0 C642.9,1463.8 648.0,1463.5 653.2,1463.2 C658.4,1462.9 663.5,1462.4 668.7,1462.1 C673.9,1461.7 679.0,1461.3 684.2,1461.0 C689.4,1460.6 694.6,1460.5 699.7,1459.9 C704.8,1459.3 709.9,1458.3 715.0,1457.5 C720.0,1456.6 725.1,1455.7 730.2,1454.8 C735.2,1454.0 740.3,1453.1 745.4,1452.2 C750.4,1451.3 756.4,1450.6 760.5,1449.6 C764.7,1448.6 766.9,1447.3 770.1,1446.1 C773.2,1444.9 776.4,1443.8 779.6,1442.6 C782.7,1441.5 785.9,1440.3 789.1,1439.2 C792.2,1438.0 795.4,1436.8 798.6,1435.7 C801.8,1434.6 805.0,1433.6 808.2,1432.8 C811.5,1432.0 814.9,1431.6 818.2,1431.0 C821.5,1430.3 824.8,1429.7 828.1,1429.1 C831.4,1428.5 834.7,1427.9 838.1,1427.3 C841.4,1426.7 844.7,1426.0 848.0,1425.4 C851.3,1424.8 854.6,1424.2 858.0,1423.6 C861.3,1423.1 864.6,1422.5 868.0,1422.0 C871.3,1421.4 874.6,1420.9 878.0,1420.4 C881.3,1419.8 883.6,1420.4 888.0,1418.7 C892.4,1417.0 899.0,1413.1 904.3,1410.1 C909.6,1407.0 915.0,1403.9 920.0,1400.4 C924.9,1396.8 929.7,1392.9 934.2,1388.7 C938.6,1384.4 942.7,1379.8 946.5,1375.0 C950.4,1370.2 953.7,1364.9 957.4,1359.9 C961.0,1354.9 964.6,1349.9 968.2,1344.9 C971.8,1339.8 975.5,1334.8 979.1,1329.8 C982.7,1324.8 986.3,1319.7 989.9,1314.6 C993.5,1309.6 997.2,1304.6 1000.9,1299.6 C1004.6,1294.6 1008.4,1289.7 1012.2,1284.8 C1016.0,1279.9 1020.0,1275.0 1023.9,1270.1 C1027.7,1265.3 1031.7,1260.4 1035.6,1255.5 C1039.5,1250.7 1043.2,1246.5 1047.3,1240.9 C1051.4,1235.3 1055.2,1230.5 1060.0,1222.0 C1064.8,1213.5 1069.7,1202.0 1076.0,1190.0 C1082.3,1178.0 1091.0,1162.5 1098.0,1150.0 C1105.0,1137.5 1111.7,1126.7 1118.0,1115.0 C1124.3,1103.3 1131.2,1089.3 1135.7,1080.0 C1140.2,1070.7 1141.1,1065.8 1145.0,1059.3 C1148.9,1052.8 1153.5,1047.2 1158.9,1040.7 C1164.3,1034.2 1171.3,1025.7 1177.5,1020.3 C1183.7,1014.9 1189.1,1011.5 1196.1,1008.2 C1203.1,1005.0 1212.0,1001.9 1219.3,1000.8 C1226.6,999.7 1233.8,1001.2 1240.0,1001.7 C1246.2,1002.2 1250.7,1003.5 1256.5,1004.0 C1262.3,1004.5 1268.8,1005.8 1275.0,1004.7 C1281.2,1003.6 1285.8,1002.5 1293.6,997.2 C1301.3,991.9 1312.2,982.2 1321.5,972.9 C1330.8,963.6 1340.5,952.0 1349.3,941.3 C1358.1,930.6 1366.3,920.6 1374.3,908.7 C1382.3,896.8 1389.6,885.1 1397.2,869.9 C1404.8,854.7 1412.4,834.8 1420.0,817.3 C1427.6,799.8 1435.3,783.8 1442.9,764.7 C1450.5,745.6 1459.5,722.0 1465.8,702.9 C1472.1,683.8 1475.4,668.2 1481.0,650.0 C1486.6,631.8 1493.1,611.3 1499.4,593.8 C1505.7,576.3 1512.1,562.5 1518.9,545.2 C1525.7,527.9 1533.2,503.7 1540.0,490.0 C1546.8,476.3 1553.3,470.7 1560.0,463.0 C1566.7,455.3 1573.8,452.2 1580.0,444.0 C1586.2,435.8 1592.8,421.3 1597.0,414.0 C1601.2,406.7 1599.0,413.5 1605.0,400.0 C1611.0,386.5 1628.3,344.2 1633.0,333.0 L1633.0,333.0 C1632.4,337.9 1630.8,352.6 1629.7,362.4 C1628.6,372.2 1627.5,382.0 1626.4,391.8 C1625.4,401.6 1624.3,411.4 1623.3,421.2 C1622.3,431.0 1621.2,440.8 1620.3,450.6 C1619.4,460.4 1619.0,465.9 1617.7,480.0 C1616.3,494.1 1614.4,516.9 1612.3,535.3 C1610.1,553.8 1607.5,572.1 1605.0,590.5 C1602.5,608.9 1600.4,627.3 1597.5,645.6 C1594.6,663.9 1591.6,682.0 1587.8,700.1 C1584.1,718.2 1579.3,736.2 1575.1,754.2 C1570.9,772.3 1566.9,790.4 1562.8,808.4 C1558.7,826.5 1555.4,844.8 1550.7,862.7 C1545.9,880.6 1539.9,898.2 1534.1,915.7 C1528.3,933.3 1522.1,950.8 1515.7,968.2 C1509.3,985.6 1502.9,1003.0 1495.6,1020.0 C1488.4,1037.1 1480.2,1053.8 1472.1,1070.4 C1464.0,1087.1 1455.8,1103.7 1447.2,1120.1 C1438.6,1136.5 1427.7,1156.1 1420.3,1168.8 C1412.9,1181.6 1408.6,1187.4 1402.7,1196.6 C1396.9,1205.9 1391.3,1215.4 1385.2,1224.5 C1379.0,1233.5 1372.6,1242.4 1365.7,1250.9 C1358.9,1259.4 1351.5,1267.6 1344.2,1275.7 C1336.8,1283.8 1329.3,1291.7 1321.6,1299.6 C1313.9,1307.4 1306.3,1315.2 1298.2,1322.7 C1290.2,1330.1 1281.8,1337.1 1273.4,1344.1 C1264.9,1351.1 1256.4,1358.0 1247.7,1364.7 C1239.0,1371.3 1230.3,1377.9 1221.2,1383.9 C1212.1,1389.9 1202.8,1395.8 1193.0,1400.7 C1183.2,1405.5 1172.8,1409.1 1162.6,1412.9 C1152.3,1416.6 1141.8,1419.9 1131.4,1423.2 C1121.0,1426.4 1109.5,1429.6 1100.0,1432.3 C1090.5,1434.9 1082.9,1436.8 1074.3,1439.0 C1065.8,1441.2 1057.2,1443.4 1048.6,1445.5 C1040.0,1447.7 1031.5,1449.8 1022.9,1452.0 C1014.3,1454.2 1005.8,1456.6 997.2,1458.7 C988.6,1460.9 980.0,1463.1 971.4,1465.2 C962.7,1467.3 954.1,1469.5 945.5,1471.4 C936.8,1473.2 928.1,1474.9 919.3,1476.3 C910.6,1477.7 901.7,1478.8 892.9,1479.8 C884.1,1480.7 875.2,1481.3 866.3,1482.0 C857.5,1482.7 848.6,1483.3 839.8,1483.9 C830.9,1484.5 822.0,1485.0 813.2,1485.6 C804.3,1486.1 795.5,1486.7 786.6,1487.2 C777.7,1487.8 768.5,1488.7 760.0,1488.9 C751.5,1489.1 743.8,1488.6 735.8,1488.4 C727.7,1488.3 719.6,1488.1 711.5,1488.0 C703.5,1487.8 695.4,1487.7 687.3,1487.5 C679.2,1487.3 671.2,1487.0 663.1,1487.0 C655.0,1487.1 646.9,1487.5 638.9,1487.7 C630.8,1488.0 622.7,1488.3 614.7,1488.6 C606.6,1488.9 598.5,1489.1 590.4,1489.5 C582.4,1490.0 574.3,1490.7 566.3,1491.5 C558.3,1492.3 550.2,1493.2 542.3,1494.5 C534.4,1495.8 526.5,1497.5 518.8,1499.5 C511.1,1501.5 503.4,1503.8 496.0,1506.4 C488.6,1509.0 481.8,1512.6 474.3,1515.1 C466.8,1517.6 458.0,1520.1 451.0,1521.3 C444.0,1522.5 438.4,1521.9 432.2,1522.1 C425.9,1522.3 419.6,1522.4 413.3,1522.5 C407.0,1522.5 400.8,1522.3 394.5,1522.3 C388.2,1522.2 381.9,1521.9 375.6,1522.1 C369.4,1522.2 363.1,1522.8 356.8,1523.2 C350.6,1523.6 344.3,1523.8 338.1,1524.5 C331.8,1525.2 325.6,1526.5 319.4,1527.5 C313.2,1528.5 307.0,1529.4 300.9,1530.6 C294.7,1531.7 288.5,1532.9 282.4,1534.3 C276.2,1535.6 270.1,1537.0 264.0,1538.5 C257.9,1540.1 251.9,1541.7 245.8,1543.5 C239.8,1545.2 233.7,1546.8 227.8,1548.9 C221.9,1551.0 213.3,1555.0 210.5,1556.2 L207,1553.8" stroke="#13a526"/>
<path d="M207.0,1579.4 C207.1,1578.3 207.3,1575.1 207.5,1572.9 C207.7,1570.8 207.2,1569.4 208.0,1566.4 C208.9,1563.4 210.9,1558.9 212.8,1554.9 C214.8,1550.8 217.2,1546.3 219.5,1542.1 C221.9,1537.9 224.0,1533.5 227.1,1529.8 C230.3,1526.0 234.7,1523.0 238.4,1519.6 C242.1,1516.1 245.1,1512.0 249.3,1509.2 C253.5,1506.3 258.7,1504.7 263.5,1502.7 C268.3,1500.7 273.1,1498.6 278.1,1497.2 C283.1,1495.7 288.3,1495.0 293.5,1493.9 C298.6,1492.8 303.7,1491.7 308.9,1490.7 C314.1,1489.8 319.3,1488.9 324.5,1488.1 C329.6,1487.2 334.6,1486.2 340.0,1485.4 C345.4,1484.6 351.2,1483.9 356.9,1483.1 C362.5,1482.4 368.1,1481.5 373.7,1480.9 C379.4,1480.2 385.0,1479.8 390.7,1479.3 C396.3,1478.8 402.0,1478.3 407.6,1477.8 C413.3,1477.4 419.0,1476.9 424.6,1476.4 C430.3,1475.9 435.9,1475.5 441.6,1474.9 C447.2,1474.4 452.9,1473.8 458.5,1473.2 C464.1,1472.5 469.7,1471.7 475.4,1471.0 C481.0,1470.2 486.6,1469.5 492.2,1468.7 C497.8,1468.0 503.4,1467.2 509.1,1466.5 C514.7,1465.9 520.4,1465.4 526.0,1464.9 C531.7,1464.4 537.3,1463.8 543.0,1463.5 C548.6,1463.2 554.6,1463.0 560.0,1463.0 C565.4,1462.9 570.4,1463.1 575.6,1463.1 C580.8,1463.2 585.9,1463.3 591.1,1463.3 C596.3,1463.3 601.5,1463.3 606.7,1463.3 C611.9,1463.2 617.1,1463.0 622.3,1462.9 C627.5,1462.8 632.7,1462.8 637.8,1462.6 C643.0,1462.4 648.2,1462.1 653.4,1461.7 C658.6,1461.4 663.7,1460.9 668.9,1460.5 C674.1,1460.1 679.3,1459.7 684.4,1459.3 C689.6,1458.9 694.8,1458.7 699.9,1458.1 C705.1,1457.4 710.1,1456.3 715.2,1455.3 C720.2,1454.3 725.3,1453.3 730.3,1452.3 C735.4,1451.3 740.4,1450.3 745.5,1449.3 C750.5,1448.2 756.5,1447.3 760.7,1446.2 C764.8,1445.1 767.0,1443.8 770.1,1442.6 C773.3,1441.4 776.4,1440.2 779.6,1439.0 C782.8,1437.8 785.9,1436.6 789.1,1435.4 C792.3,1434.2 795.4,1432.9 798.6,1431.8 C801.8,1430.7 804.9,1429.6 808.2,1428.8 C811.5,1428.1 814.9,1427.7 818.2,1427.1 C821.5,1426.6 824.8,1426.0 828.1,1425.5 C831.5,1424.9 834.8,1424.3 838.1,1423.8 C841.4,1423.2 844.7,1422.6 848.1,1422.1 C851.4,1421.5 854.7,1420.9 858.0,1420.3 C861.4,1419.7 864.7,1419.1 868.0,1418.5 C871.4,1417.9 874.7,1417.3 878.0,1416.7 C881.3,1416.1 883.7,1416.7 888.0,1414.9 C892.3,1413.2 898.6,1409.3 903.7,1406.3 C908.8,1403.2 913.9,1400.1 918.7,1396.5 C923.4,1393.0 928.0,1389.1 932.3,1384.9 C936.5,1380.7 940.3,1376.2 944.0,1371.5 C947.8,1366.8 951.0,1361.7 954.5,1356.9 C957.9,1352.0 961.4,1347.1 964.9,1342.2 C968.3,1337.3 971.8,1332.4 975.2,1327.5 C978.6,1322.6 982.0,1317.7 985.5,1312.8 C988.9,1307.9 992.3,1303.0 995.9,1298.1 C999.4,1293.3 1002.9,1288.5 1006.5,1283.7 C1010.2,1278.9 1013.9,1274.2 1017.5,1269.5 C1021.2,1264.8 1024.9,1260.1 1028.6,1255.4 C1032.4,1250.7 1035.9,1246.8 1039.8,1241.3 C1043.7,1235.7 1047.2,1230.5 1052.0,1222.0 C1056.8,1213.5 1062.7,1202.0 1068.5,1190.0 C1074.3,1178.0 1080.9,1162.5 1087.0,1150.0 C1093.1,1137.5 1098.9,1126.7 1105.0,1115.0 C1111.1,1103.3 1118.5,1090.1 1123.6,1080.0 C1128.7,1069.9 1131.4,1063.5 1135.7,1054.6 C1140.0,1045.7 1144.9,1036.1 1149.6,1026.8 C1154.2,1017.5 1158.9,1007.1 1163.6,998.9 C1168.2,990.7 1172.1,983.8 1177.5,977.6 C1182.9,971.4 1189.1,966.3 1196.1,961.8 C1203.1,957.3 1212.0,953.1 1219.3,950.6 C1226.6,948.1 1231.3,946.8 1240.0,946.9 C1248.7,947.0 1262.4,951.8 1271.3,951.5 C1280.2,951.2 1286.8,948.2 1293.6,945.0 C1300.4,941.8 1304.5,938.5 1312.2,932.0 C1319.9,925.5 1331.5,914.5 1340.0,906.0 C1348.5,897.5 1355.3,890.4 1362.9,881.3 C1370.5,872.2 1378.1,863.0 1385.7,851.6 C1393.3,840.2 1401.0,828.0 1408.6,812.7 C1416.2,797.5 1425.0,776.5 1431.5,760.1 C1438.0,743.7 1441.8,729.5 1447.5,714.3 C1453.2,699.0 1460.2,684.6 1465.8,668.6 C1471.4,652.6 1475.4,635.3 1481.0,618.0 C1486.6,600.7 1493.1,581.7 1499.4,564.7 C1505.7,547.7 1512.5,534.9 1518.9,516.1 C1525.3,497.3 1531.7,468.0 1538.0,452.0 C1544.3,436.0 1550.3,428.8 1557.0,420.0 C1563.7,411.2 1571.2,406.5 1578.0,399.0 C1584.8,391.5 1592.5,384.1 1598.0,375.0 C1603.5,365.9 1605.1,357.7 1611.0,344.1 C1616.9,330.5 1629.7,301.9 1633.4,293.5 L1633.4,293.5 C1632.6,299.8 1630.3,318.7 1628.9,331.2 C1627.4,343.7 1626.2,356.0 1624.8,368.4 C1623.5,380.8 1622.2,393.2 1621.0,405.6 C1619.7,418.0 1618.4,430.4 1617.3,442.8 C1616.1,455.2 1615.5,464.6 1614.0,480.0 C1612.6,495.4 1610.8,517.0 1608.7,535.5 C1606.6,553.9 1603.9,572.3 1601.4,590.7 C1599.0,609.1 1597.1,627.7 1594.0,645.9 C1590.9,664.2 1586.9,682.2 1582.8,700.3 C1578.6,718.4 1573.7,736.3 1569.3,754.3 C1564.8,772.3 1560.6,790.4 1556.3,808.5 C1552.0,826.5 1548.5,844.8 1543.6,862.7 C1538.6,880.6 1532.6,898.2 1526.6,915.8 C1520.7,933.3 1514.4,950.8 1507.9,968.2 C1501.4,985.6 1494.9,1003.0 1487.6,1020.1 C1480.3,1037.1 1472.1,1053.8 1464.0,1070.5 C1455.9,1087.2 1447.6,1103.9 1439.0,1120.3 C1430.4,1136.8 1419.5,1156.5 1412.2,1169.2 C1404.8,1181.9 1400.8,1187.4 1395.1,1196.5 C1389.4,1205.6 1384.0,1214.9 1378.1,1223.8 C1372.1,1232.8 1366.0,1241.6 1359.4,1250.0 C1352.8,1258.5 1345.7,1266.6 1338.6,1274.6 C1331.5,1282.6 1324.2,1290.5 1316.7,1298.2 C1309.2,1305.9 1301.6,1313.5 1293.7,1320.9 C1285.9,1328.2 1277.7,1335.2 1269.5,1342.1 C1261.3,1349.0 1253.0,1355.9 1244.5,1362.5 C1236.0,1369.1 1227.5,1375.7 1218.6,1381.8 C1209.8,1387.8 1200.7,1393.7 1191.1,1398.5 C1181.6,1403.3 1171.3,1406.9 1161.3,1410.7 C1151.2,1414.5 1140.9,1417.8 1130.7,1421.1 C1120.5,1424.5 1109.4,1428.0 1100.0,1430.8 C1090.6,1433.6 1082.9,1435.7 1074.4,1438.1 C1065.9,1440.6 1057.4,1442.9 1048.8,1445.3 C1040.3,1447.7 1031.8,1450.1 1023.2,1452.5 C1014.7,1454.9 1006.2,1457.4 997.6,1459.7 C989.0,1462.1 980.4,1464.2 971.8,1466.4 C963.1,1468.6 954.5,1470.9 945.9,1472.8 C937.2,1474.7 928.5,1476.5 919.7,1477.9 C910.9,1479.3 902.1,1480.4 893.2,1481.3 C884.4,1482.3 875.5,1482.8 866.6,1483.5 C857.7,1484.1 848.8,1484.7 840.0,1485.2 C831.1,1485.7 822.2,1486.2 813.3,1486.7 C804.4,1487.2 795.5,1487.7 786.6,1488.2 C777.8,1488.6 768.5,1489.4 760.0,1489.6 C751.5,1489.8 743.8,1489.4 735.7,1489.2 C727.6,1489.1 719.5,1489.0 711.4,1488.9 C703.3,1488.7 695.2,1488.6 687.1,1488.5 C679.0,1488.4 670.9,1488.1 662.8,1488.1 C654.7,1488.2 646.6,1488.6 638.5,1488.8 C630.4,1489.1 622.3,1489.4 614.2,1489.7 C606.1,1490.0 597.9,1490.1 589.9,1490.6 C581.8,1491.1 573.7,1491.9 565.7,1492.8 C557.6,1493.7 549.5,1494.6 541.6,1496.0 C533.7,1497.5 525.8,1499.3 518.2,1501.5 C510.5,1503.7 502.9,1506.3 495.6,1509.3 C488.3,1512.2 481.7,1516.4 474.3,1519.1 C466.9,1521.9 458.0,1524.5 451.0,1525.7 C444.0,1526.9 438.4,1526.3 432.2,1526.5 C425.9,1526.6 419.6,1526.8 413.3,1526.8 C407.0,1526.7 400.8,1526.5 394.5,1526.4 C388.2,1526.2 381.9,1525.9 375.7,1526.0 C369.4,1526.0 363.1,1526.6 356.9,1526.9 C350.6,1527.3 344.3,1527.4 338.1,1528.1 C331.8,1528.8 325.6,1529.9 319.4,1530.9 C313.2,1531.8 307.0,1532.7 300.8,1533.8 C294.7,1535.0 288.5,1536.3 282.4,1537.6 C276.2,1539.0 270.1,1540.4 264.0,1541.9 C257.9,1543.5 251.9,1545.1 245.8,1546.9 C239.8,1548.6 233.7,1550.2 227.8,1552.4 C221.9,1554.5 213.4,1558.6 210.6,1559.8 L207,1579.4" stroke="#0d3a58"/>
<path d="M207.0,1603.7 C207.1,1601.7 207.4,1595.7 207.6,1591.7 C207.8,1587.7 207.5,1584.1 208.2,1579.8 C208.9,1575.4 210.2,1570.2 211.7,1565.3 C213.2,1560.5 215.1,1555.3 217.1,1550.5 C219.0,1545.6 220.6,1540.5 223.6,1536.1 C226.5,1531.8 231.0,1528.2 234.6,1524.2 C238.2,1520.2 241.0,1515.3 245.2,1512.0 C249.5,1508.8 255.0,1507.0 260.0,1504.7 C264.9,1502.4 269.9,1499.9 275.1,1498.2 C280.3,1496.5 285.8,1495.7 291.2,1494.4 C296.6,1493.2 302.0,1492.0 307.4,1490.9 C312.8,1489.8 318.3,1488.9 323.7,1487.9 C329.1,1486.9 334.5,1485.9 340.0,1485.0 C345.5,1484.0 351.2,1483.3 356.9,1482.4 C362.5,1481.6 368.1,1480.6 373.7,1479.9 C379.3,1479.2 385.0,1478.7 390.7,1478.2 C396.3,1477.6 402.0,1477.1 407.6,1476.6 C413.3,1476.1 419.0,1475.6 424.6,1475.0 C430.3,1474.5 436.0,1474.1 441.6,1473.5 C447.3,1472.9 452.9,1472.2 458.5,1471.5 C464.2,1470.7 469.8,1469.8 475.4,1468.9 C481.0,1468.0 486.6,1467.2 492.2,1466.3 C497.8,1465.5 503.4,1464.5 509.0,1463.8 C514.7,1463.0 520.3,1462.5 526.0,1461.9 C531.6,1461.3 537.3,1460.6 543.0,1460.3 C548.6,1460.0 554.6,1459.8 560.0,1459.8 C565.4,1459.8 570.4,1460.1 575.6,1460.2 C580.8,1460.3 586.0,1460.5 591.2,1460.6 C596.4,1460.6 601.6,1460.7 606.8,1460.7 C612.1,1460.6 617.3,1460.5 622.5,1460.4 C627.7,1460.3 632.9,1460.4 638.1,1460.2 C643.3,1460.0 648.5,1459.6 653.7,1459.2 C658.9,1458.8 664.0,1458.3 669.2,1457.8 C674.4,1457.3 679.6,1456.9 684.8,1456.4 C690.0,1455.9 695.2,1455.8 700.3,1455.0 C705.5,1454.2 710.5,1452.8 715.5,1451.6 C720.6,1450.4 725.6,1449.2 730.6,1447.9 C735.6,1446.7 740.7,1445.5 745.7,1444.2 C750.8,1443.0 756.7,1441.8 760.8,1440.5 C764.9,1439.3 767.1,1438.1 770.2,1436.9 C773.4,1435.7 776.5,1434.4 779.7,1433.2 C782.8,1432.0 786.0,1430.8 789.1,1429.6 C792.3,1428.3 795.4,1427.0 798.5,1425.9 C801.7,1424.8 804.9,1423.7 808.2,1423.0 C811.4,1422.3 814.8,1422.1 818.2,1421.7 C821.5,1421.2 824.8,1420.7 828.2,1420.3 C831.5,1419.8 834.8,1419.4 838.2,1418.9 C841.5,1418.5 844.9,1418.1 848.2,1417.6 C851.5,1417.0 854.8,1416.5 858.2,1415.9 C861.5,1415.3 864.8,1414.7 868.1,1414.0 C871.4,1413.4 874.7,1412.8 878.1,1412.2 C881.4,1411.6 883.9,1412.1 888.0,1410.3 C892.1,1408.6 898.1,1404.7 902.9,1401.7 C907.8,1398.7 912.7,1395.6 917.2,1392.1 C921.7,1388.6 926.1,1384.7 930.1,1380.6 C934.1,1376.6 937.7,1372.1 941.3,1367.6 C944.8,1363.1 948.0,1358.2 951.3,1353.5 C954.6,1348.8 957.9,1344.1 961.2,1339.3 C964.5,1334.6 967.8,1329.9 971.1,1325.1 C974.4,1320.4 977.6,1315.6 980.9,1310.9 C984.1,1306.1 987.4,1301.3 990.7,1296.6 C994.1,1291.9 997.4,1287.3 1000.9,1282.6 C1004.3,1278.0 1007.9,1273.4 1011.4,1268.9 C1014.9,1264.3 1018.4,1259.7 1022.0,1255.2 C1025.6,1250.6 1029.0,1246.8 1032.8,1241.6 C1036.6,1236.4 1040.3,1232.4 1045.0,1224.0 C1049.7,1215.6 1056.0,1202.7 1061.0,1191.0 C1066.0,1179.3 1070.0,1166.3 1075.0,1154.0 C1080.0,1141.7 1084.9,1129.3 1091.0,1117.0 C1097.1,1104.7 1106.3,1089.6 1111.6,1080.0 C1116.9,1070.4 1119.0,1067.4 1122.7,1059.3 C1126.4,1051.2 1129.7,1042.2 1133.9,1031.4 C1138.1,1020.6 1143.2,1006.7 1147.8,994.3 C1152.4,981.9 1156.6,969.5 1161.7,957.1 C1166.8,944.7 1173.5,930.4 1178.4,920.0 C1183.4,909.6 1186.1,902.5 1191.4,894.9 C1196.7,887.3 1203.8,879.7 1210.0,874.4 C1216.2,869.1 1222.4,865.9 1228.6,863.3 C1234.8,860.7 1241.0,859.0 1247.2,858.7 C1253.4,858.4 1259.5,860.6 1265.7,861.4 C1271.9,862.2 1278.1,863.9 1284.3,863.3 C1290.5,862.7 1296.7,861.2 1302.9,857.7 C1309.1,854.2 1315.3,847.3 1321.5,842.0 C1327.7,836.7 1333.1,831.8 1340.0,826.0 C1346.9,820.2 1355.3,813.8 1362.9,807.0 C1370.5,800.2 1378.1,793.8 1385.7,785.0 C1393.3,776.2 1401.7,765.8 1408.6,754.0 C1415.5,742.2 1421.2,727.8 1426.9,714.3 C1432.6,700.8 1437.6,686.5 1442.9,673.2 C1448.2,659.9 1454.3,646.5 1458.9,634.3 C1463.5,622.1 1465.2,615.7 1470.4,600.0 C1475.6,584.3 1483.4,560.0 1490.0,540.0 C1496.6,520.0 1504.7,496.6 1510.0,480.1 C1515.3,463.6 1517.1,454.1 1521.6,441.2 C1526.1,428.2 1531.4,415.3 1537.2,402.4 C1543.0,389.4 1550.1,375.5 1556.6,363.5 C1563.1,351.5 1569.5,340.2 1576.0,330.5 C1582.5,320.8 1589.7,313.6 1595.5,305.2 C1601.3,296.8 1606.6,289.3 1611.0,279.9 C1615.4,270.5 1618.0,258.8 1621.7,248.8 C1625.4,238.8 1631.5,224.5 1633.4,219.7 L1633.4,219.7 C1632.5,228.4 1629.6,254.6 1627.8,272.0 C1626.0,289.4 1624.4,306.7 1622.7,324.0 C1621.1,341.3 1619.4,358.7 1617.8,376.0 C1616.2,393.3 1614.6,410.7 1613.2,428.0 C1611.7,445.3 1610.6,462.1 1609.1,480.0 C1607.5,497.9 1606.0,517.1 1603.9,535.6 C1601.8,554.1 1599.1,572.6 1596.6,591.0 C1594.2,609.5 1592.8,628.2 1589.3,646.4 C1585.9,664.7 1580.6,682.5 1575.9,700.5 C1571.3,718.5 1566.1,736.4 1561.3,754.4 C1556.6,772.4 1552.0,790.4 1547.5,808.5 C1542.9,826.5 1539.2,844.8 1534.0,862.7 C1528.8,880.6 1522.6,898.2 1516.5,915.8 C1510.4,933.3 1504.0,950.8 1497.3,968.2 C1490.7,985.6 1484.1,1003.0 1476.7,1020.1 C1469.3,1037.2 1461.1,1053.9 1452.9,1070.7 C1444.8,1087.4 1436.5,1104.1 1427.9,1120.6 C1419.3,1137.1 1408.3,1157.0 1401.1,1169.6 C1393.9,1182.2 1390.1,1187.4 1384.6,1196.3 C1379.1,1205.2 1373.8,1214.2 1368.1,1223.0 C1362.4,1231.7 1356.6,1240.4 1350.3,1248.8 C1344.1,1257.1 1337.3,1265.1 1330.5,1273.0 C1323.6,1280.9 1316.6,1288.6 1309.3,1296.1 C1302.1,1303.7 1294.5,1311.0 1286.9,1318.1 C1279.2,1325.2 1271.3,1332.1 1263.4,1338.9 C1255.5,1345.7 1247.5,1352.5 1239.3,1359.0 C1231.2,1365.6 1223.1,1372.2 1214.5,1378.2 C1206.0,1384.2 1197.3,1390.2 1188.0,1395.0 C1178.8,1399.8 1168.8,1403.3 1159.1,1407.0 C1149.3,1410.8 1139.4,1414.1 1129.5,1417.6 C1119.7,1421.2 1109.2,1425.0 1100.0,1428.1 C1090.8,1431.3 1083.1,1433.8 1074.6,1436.6 C1066.1,1439.4 1057.7,1442.2 1049.2,1445.0 C1040.7,1447.8 1032.3,1450.6 1023.8,1453.4 C1015.3,1456.2 1006.9,1459.1 998.4,1461.7 C989.8,1464.3 981.2,1466.5 972.6,1468.8 C963.9,1471.2 955.3,1473.7 946.7,1475.8 C938.0,1477.9 929.3,1479.7 920.5,1481.2 C911.7,1482.7 902.8,1483.8 893.9,1484.7 C885.0,1485.6 876.1,1486.2 867.1,1486.8 C858.2,1487.4 849.3,1487.8 840.4,1488.2 C831.4,1488.6 822.5,1489.0 813.6,1489.3 C804.6,1489.7 795.7,1490.1 786.8,1490.4 C777.9,1490.8 768.6,1491.3 760.0,1491.5 C751.4,1491.7 743.7,1491.4 735.5,1491.3 C727.3,1491.3 719.1,1491.2 711.0,1491.2 C702.8,1491.1 694.6,1491.1 686.5,1491.0 C678.3,1490.9 670.1,1490.7 661.9,1490.8 C653.8,1490.9 645.6,1491.3 637.4,1491.6 C629.3,1491.9 621.1,1492.2 612.9,1492.5 C604.8,1492.8 596.6,1492.7 588.4,1493.3 C580.3,1493.9 572.2,1495.0 564.1,1496.0 C556.0,1497.1 547.8,1498.1 539.9,1499.8 C531.9,1501.5 524.1,1503.7 516.5,1506.4 C509.0,1509.2 501.5,1512.5 494.4,1516.3 C487.4,1520.1 481.5,1525.9 474.3,1529.3 C467.0,1532.7 458.0,1535.4 451.0,1536.7 C444.0,1538.0 438.4,1537.3 432.2,1537.4 C425.9,1537.5 419.6,1537.6 413.3,1537.5 C407.1,1537.3 400.8,1536.9 394.5,1536.6 C388.3,1536.3 382.0,1535.8 375.7,1535.7 C369.5,1535.7 363.2,1536.1 356.9,1536.3 C350.6,1536.5 344.4,1536.5 338.1,1537.0 C331.9,1537.6 325.6,1538.6 319.4,1539.4 C313.2,1540.3 307.0,1540.9 300.8,1542.0 C294.6,1543.1 288.5,1544.6 282.4,1546.0 C276.3,1547.4 270.1,1548.9 264.1,1550.5 C258.0,1552.1 251.9,1553.7 245.9,1555.5 C239.9,1557.2 233.8,1558.9 227.9,1561.1 C222.1,1563.3 213.7,1567.5 210.8,1568.8 L207,1603.7" stroke="#c24a12"/>
<path d="M207.0,1628.0 C207.2,1621.7 207.9,1599.0 208.5,1590.0 C209.1,1581.0 209.2,1581.5 210.8,1574.0 C212.4,1566.5 215.4,1551.5 218.0,1545.0 C220.6,1538.5 222.4,1540.2 226.3,1535.0 C230.2,1529.8 234.0,1520.0 241.7,1514.0 C249.4,1508.0 262.2,1502.8 272.5,1499.0 C282.8,1495.2 292.1,1493.9 303.4,1491.5 C314.6,1489.1 328.0,1486.7 340.0,1484.5 C352.0,1482.3 356.9,1480.8 375.4,1478.5 C393.9,1476.2 428.4,1474.0 451.0,1471.0 C473.6,1468.0 496.2,1462.8 511.0,1460.5 C525.8,1458.2 531.8,1457.7 540.0,1457.0 C548.2,1456.3 550.0,1456.3 560.0,1456.5 C570.0,1456.7 585.8,1457.8 600.0,1458.0 C614.2,1458.2 627.8,1458.6 645.0,1457.5 C662.2,1456.4 683.7,1455.3 703.0,1451.5 C722.3,1447.7 744.0,1440.2 761.0,1434.5 C778.0,1428.8 789.4,1420.8 804.7,1417.0 C820.0,1413.2 839.1,1414.0 853.0,1412.0 C866.9,1410.0 878.3,1408.5 888.0,1405.0 C897.7,1401.5 903.7,1396.6 911.0,1391.0 C918.3,1385.4 925.4,1379.0 932.0,1371.4 C938.6,1363.8 944.3,1354.3 950.5,1345.4 C956.7,1336.5 962.6,1327.6 969.0,1318.0 C975.4,1308.4 982.3,1297.5 989.0,1288.0 C995.7,1278.5 1003.2,1268.7 1009.0,1261.0 C1014.8,1253.3 1019.2,1248.8 1024.0,1242.0 C1028.8,1235.2 1033.4,1227.9 1038.0,1220.0 C1042.6,1212.1 1047.2,1202.8 1051.5,1194.5 C1055.8,1186.2 1059.1,1178.9 1063.5,1170.0 C1067.9,1161.1 1073.8,1149.8 1078.0,1141.0 C1082.2,1132.2 1085.0,1125.5 1088.5,1117.0 C1092.0,1108.5 1095.2,1100.2 1099.0,1090.0 C1102.8,1079.8 1107.3,1067.8 1111.6,1056.0 C1115.9,1044.2 1120.8,1031.0 1125.0,1019.0 C1129.2,1007.0 1133.3,994.7 1137.0,984.0 C1140.7,973.3 1143.3,965.7 1147.0,955.0 C1150.7,944.3 1155.3,931.0 1159.0,920.0 C1162.7,909.0 1165.0,900.6 1169.2,889.3 C1173.4,878.0 1178.8,863.0 1184.0,852.2 C1189.2,841.4 1194.8,832.3 1200.7,824.3 C1206.6,816.2 1213.1,809.5 1219.3,803.9 C1225.5,798.3 1231.7,794.0 1237.9,790.9 C1244.1,787.8 1250.3,785.9 1256.5,785.3 C1262.7,784.7 1269.1,786.5 1275.0,787.1 C1280.9,787.7 1285.5,789.6 1291.7,789.0 C1297.9,788.4 1305.7,786.5 1312.2,783.4 C1318.7,780.3 1324.5,774.7 1330.7,770.4 C1336.9,766.1 1343.9,761.4 1349.3,757.4 C1354.7,753.4 1356.8,751.3 1362.9,746.4 C1369.0,741.5 1378.9,734.2 1385.7,728.1 C1392.5,722.0 1398.3,716.7 1404.0,709.8 C1409.7,702.9 1414.7,696.0 1420.0,686.9 C1425.3,677.8 1431.0,665.6 1436.0,654.9 C1441.0,644.2 1446.0,632.0 1449.8,622.9 C1453.6,613.8 1453.9,613.8 1458.9,600.0 C1463.9,586.2 1472.8,560.0 1480.0,540.0 C1487.2,520.0 1496.5,496.6 1502.2,480.1 C1507.9,463.6 1509.7,455.8 1513.9,441.2 C1518.1,426.6 1522.7,408.8 1527.5,392.6 C1532.3,376.4 1537.5,358.4 1543.0,344.1 C1548.5,329.9 1554.3,318.5 1560.5,307.1 C1566.7,295.8 1573.4,287.0 1579.9,276.0 C1586.4,265.0 1593.6,253.1 1599.4,241.1 C1605.2,229.1 1609.6,217.7 1614.9,204.1 C1620.2,190.5 1628.7,166.8 1631.4,159.4 L1631.4,159.4 C1630.8,170.0 1629.2,200.2 1628.0,223.0 C1626.8,245.8 1625.8,271.7 1624.3,296.0 C1622.8,320.3 1621.3,345.0 1618.9,369.0 C1616.5,393.0 1612.3,421.5 1610.0,440.0 C1607.7,458.5 1606.7,464.2 1605.0,480.0 C1603.3,495.8 1603.3,506.7 1600.0,535.0 C1596.7,563.3 1590.5,620.5 1585.0,650.0 C1579.5,679.5 1573.2,690.3 1567.0,712.0 C1560.8,733.7 1554.2,755.3 1547.5,780.0 C1540.8,804.7 1534.9,833.3 1527.0,860.0 C1519.1,886.7 1509.9,913.3 1500.0,940.0 C1490.1,966.7 1479.5,993.3 1467.8,1020.0 C1456.1,1046.7 1442.6,1075.0 1430.0,1100.0 C1417.4,1125.0 1405.5,1146.7 1392.0,1170.0 C1378.5,1193.3 1362.0,1221.0 1349.0,1240.0 C1336.0,1259.0 1326.2,1270.5 1314.0,1284.0 C1301.8,1297.5 1287.5,1310.3 1276.0,1321.0 C1264.5,1331.7 1255.0,1339.5 1245.0,1348.0 C1235.0,1356.5 1225.5,1364.8 1216.0,1372.0 C1206.5,1379.2 1197.3,1385.8 1188.0,1391.0 C1178.7,1396.2 1170.7,1398.8 1160.0,1403.0 C1149.3,1407.2 1134.0,1412.7 1124.0,1416.5 C1114.0,1420.3 1110.3,1422.1 1100.0,1426.0 C1089.7,1429.9 1073.7,1435.7 1062.0,1440.0 C1050.3,1444.3 1040.8,1448.0 1030.0,1452.0 C1019.2,1456.0 1007.2,1460.7 997.0,1464.0 C986.8,1467.3 979.5,1469.0 969.0,1472.0 C958.5,1475.0 945.5,1479.5 934.0,1482.0 C922.5,1484.5 912.3,1485.7 900.0,1487.0 C887.7,1488.3 871.7,1489.3 860.0,1490.0 C848.3,1490.7 846.7,1490.5 830.0,1491.0 C813.3,1491.5 788.3,1492.7 760.0,1493.0 C731.7,1493.3 688.8,1492.6 660.0,1493.0 C631.2,1493.4 603.7,1494.5 587.0,1495.5 C570.3,1496.5 570.2,1497.4 560.0,1499.0 C549.8,1500.6 536.7,1501.5 526.0,1505.0 C515.3,1508.5 504.8,1514.5 496.0,1520.0 C487.2,1525.5 481.0,1533.8 473.5,1538.0 C466.0,1542.2 459.8,1544.1 451.0,1545.5 C442.2,1546.9 433.3,1546.8 420.7,1546.5 C408.1,1546.2 388.8,1543.9 375.4,1543.5 C361.9,1543.1 352.0,1543.2 340.0,1544.0 C328.0,1544.8 314.6,1546.2 303.4,1548.0 C292.1,1549.8 282.8,1552.4 272.5,1555.0 C262.2,1557.6 250.3,1560.9 241.7,1563.5 C233.1,1566.1 226.1,1568.4 221.0,1570.5 C215.9,1572.6 212.7,1575.1 211.0,1576.0 L207,1628.0" stroke="#0a4a1c"/>
</g>
<rect x="156.1" y="38.2" width="1522.9" height="1601.8" fill="none" stroke="#000" stroke-width="11"/>
<rect x="160" y="1475.0" width="16" height="10" fill="#000"/>
<rect x="160" y="1315.0" width="16" height="10" fill="#000"/>
<rect x="160" y="1155.0" width="16" height="10" fill="#000"/>
<rect x="160" y="995.0" width="16" height="10" fill="#000"/>
<rect x="160" y="835.0" width="16" height="10" fill="#000"/>
<rect x="160" y="675.0" width="16" height="10" fill="#000"/>
<rect x="160" y="515.0" width="16" height="10" fill="#000"/>
<rect x="160" y="355.0" width="16" height="10" fill="#000"/>
<rect x="160" y="195.0" width="16" height="10" fill="#000"/>
<rect x="342.1" y="1620" width="10" height="16" fill="#000"/>
<rect x="532.0" y="1620" width="10" height="16" fill="#000"/>
<rect x="722.0" y="1620" width="10" height="16" fill="#000"/>
<rect x="911.9" y="1620" width="10" height="16" fill="#000"/>
<rect x="1101.8" y="1620" width="10" height="16" fill="#000"/>
<rect x="1291.7" y="1620" width="10" height="16" fill="#000"/>
<rect x="1481.6" y="1620" width="10" height="16" fill="#000"/>
<rect x="212.7" y="179" width="633.3" height="577.5" rx="3" fill="#fff" stroke="#000" stroke-width="10.6"/>
<rect x="334" y="208.8" width="459.4" height="456.2" rx="2" fill="none" stroke="#000" stroke-width="9.8"/>
<rect x="338" y="318.4" width="15" height="9" fill="#000"/>
<rect x="338" y="432.5" width="15" height="9" fill="#000"/>
<rect x="338" y="547.0" width="15" height="9" fill="#000"/>
<rect x="480.1" y="651" width="9" height="12" fill="#000"/>
<rect x="634.5" y="651" width="9" height="12" fill="#000"/>
<line x1="409" y1="613" x2="602" y2="253" stroke="#13698f" stroke-width="6" stroke-dasharray="0.1 14" stroke-linecap="round"/>
<circle cx="410.8" cy="609.9" r="12.6" fill="#13698f"/>
<circle cx="466.4" cy="485.3" r="12.6" fill="#13698f"/>
<circle cx="484.4" cy="458.9" r="12.6" fill="#13698f"/>
<circle cx="502.4" cy="439.7" r="12.6" fill="#13698f"/>
<circle cx="522.0" cy="428.9" r="12.6" fill="#13698f"/>
<circle cx="536.5" cy="388.0" r="12.6" fill="#13698f"/>
<circle cx="551.3" cy="355.7" r="12.6" fill="#13698f"/>
<circle cx="577.3" cy="296.8" r="12.6" fill="#13698f"/>
<circle cx="599.4" cy="241.1" r="12.6" fill="#13698f"/>
<rect x="209.2" y="785.2" width="639.6" height="570.8" rx="3" fill="#fff" stroke="#000" stroke-width="10.6"/>
<rect x="334.3" y="810" width="447.7" height="456" rx="2" fill="none" stroke="#000" stroke-width="10"/>
<rect x="339" y="896.8" width="12" height="9" fill="#000"/>
<rect x="339" y="985.7" width="12" height="9" fill="#000"/>
<rect x="339" y="1078.1" width="12" height="9" fill="#000"/>
<rect x="339" y="1170.6" width="12" height="9" fill="#000"/>
<rect x="440.1" y="1251" width="9" height="12" fill="#000"/>
<rect x="553.9" y="1251" width="9" height="12" fill="#000"/>
<rect x="664.4" y="1251" width="9" height="12" fill="#000"/>
<line x1="356" y1="1175" x2="672" y2="921" stroke="#13698f" stroke-width="6" stroke-dasharray="0.1 13" stroke-linecap="round"/>
<line x1="1046.9" y1="1098" x2="1053.5" y2="797" stroke="#13698f" stroke-width="7.5"/>
<polygon points="1054.9,773.5 1068.6,800 1040,800" fill="#13698f"/>
<circle cx="359.7" cy="1154.8" r="12" fill="#13698f"/>
<circle cx="418.0" cy="1122.4" r="12" fill="#13698f"/>
<circle cx="447.5" cy="1114.5" r="12" fill="#13698f"/>
<circle cx="473.0" cy="1089.5" r="12" fill="#13698f"/>
<circle cx="499.8" cy="1070.7" r="12" fill="#13698f"/>
<circle cx="528.6" cy="1038.4" r="12" fill="#13698f"/>
<circle cx="558.2" cy="1007.6" r="12" fill="#13698f"/>
<circle cx="614.2" cy="956.3" r="12" fill="#13698f"/>
<circle cx="669.5" cy="916.0" r="12" fill="#13698f"/>
<g>
<text transform="matrix(0.9763,0,0,0.9730,43.42,60.63)" font-size="52" font-weight="normal" stroke="#000" stroke-width="1.4" >900</text>
<text transform="matrix(0.9974,0,0,0.9946,42.20,216.61)" font-size="52" font-weight="normal" stroke="#000" stroke-width="1.4" >800</text>
<text transform="matrix(1.0243,0,0,0.9946,40.13,378.21)" font-size="52" font-weight="normal" stroke="#000" stroke-width="1.4" >700</text>
<text transform="matrix(1.0107,0,0,0.9946,41.18,531.81)" font-size="52" font-weight="normal" stroke="#000" stroke-width="1.4" >600</text>
<text transform="matrix(1.0107,0,0,0.9946,41.18,690.21)" font-size="52" font-weight="normal" stroke="#000" stroke-width="1.4" >500</text>
<text transform="matrix(0.9844,0,0,0.9514,43.20,851.85)" font-size="52" font-weight="normal" stroke="#000" stroke-width="1.4" >400</text>
<text transform="matrix(1.0107,0,0,0.9514,41.18,1013.45)" font-size="52" font-weight="normal" stroke="#000" stroke-width="1.4" >300</text>
<text transform="matrix(1.0107,0,0,0.9514,41.18,1175.05)" font-size="52" font-weight="normal" stroke="#000" stroke-width="1.4" >200</text>
<text transform="matrix(1.0384,0,0,0.9351,39.05,1332.86)" font-size="52" font-weight="normal" stroke="#000" stroke-width="1.4" >100</text>
<text transform="matrix(0.9417,0,0,0.9622,95.06,1495.24)" font-size="52" font-weight="normal" stroke="#000" stroke-width="1.4" >0</text>
<text transform="matrix(1.0087,0,0,0.9649,11.68,1653.64)" font-size="52" font-weight="normal" stroke="#000" stroke-width="1.4" >−100</text>
<text transform="matrix(1.0198,0,0,0.9676,99.36,1716.33)" font-size="52" font-weight="normal" stroke="#000" stroke-width="1.4" >−0.3</text>
<text transform="matrix(1.0056,0,0,0.9676,284.99,1716.33)" font-size="52" font-weight="normal" stroke="#000" stroke-width="1.4" >−0.1</text>
<text transform="matrix(0.9984,0,0,0.9676,502.60,1716.33)" font-size="52" font-weight="normal" stroke="#000" stroke-width="1.4" >0.1</text>
<text transform="matrix(0.9810,0,0,0.9676,695.42,1716.33)" font-size="52" font-weight="normal" stroke="#000" stroke-width="1.4" >0.3</text>
<text transform="matrix(0.9698,0,0,0.9676,883.93,1716.33)" font-size="52" font-weight="normal" stroke="#000" stroke-width="1.4" >0.5</text>
<text transform="matrix(0.9730,0,0,0.9676,1077.03,1716.33)" font-size="52" font-weight="normal" stroke="#000" stroke-width="1.4" >0.7</text>
<text transform="matrix(0.9937,0,0,0.9676,1270.41,1716.33)" font-size="52" font-weight="normal" stroke="#000" stroke-width="1.4" >0.9</text>
<text transform="matrix(0.9949,0,0,0.9676,1455.72,1716.33)" font-size="52" font-weight="normal" stroke="#000" stroke-width="1.4" >1.1</text>
<text transform="matrix(1.0200,0,0,0.9676,1646.42,1716.33)" font-size="52" font-weight="normal" stroke="#000" stroke-width="1.4" >1.3</text>
<text transform="matrix(1.0058,0,0,0.9772,218.08,149.73)" font-size="90" font-weight="bold" >I/μA</text>
<text transform="matrix(1.0411,0,0,1.0190,1455.66,1592.68)" font-size="86" font-weight="bold" >E/V</text>
<text transform="matrix(0.9556,0,0,0.9846,1223.43,759.32)" font-size="80" font-weight="bold" >a</text>
<text transform="matrix(0.9763,0,0,0.9630,1488.52,282.64)" font-size="76" font-weight="bold" >b</text>
<text transform="matrix(1.0198,0,0,1.0641,1018.96,756.40)" font-size="60" font-weight="bold" >300</text>
<text transform="matrix(1.0593,0,0,1.0526,1011.58,1147.00)" font-size="58" font-weight="bold" >25</text>
<text transform="matrix(1.0178,0,0,0.9943,239.98,235.81)" font-size="50" font-weight="normal" stroke="#000" stroke-width="1.4" >800</text>
<text transform="matrix(1.0620,0,0,1.0114,237.11,344.69)" font-size="50" font-weight="normal" stroke="#000" stroke-width="1.4" >700</text>
<text transform="matrix(1.0329,0,0,1.0143,239.27,455.59)" font-size="50" font-weight="normal" stroke="#000" stroke-width="1.4" >600</text>
<text transform="matrix(1.0472,0,0,0.9800,238.21,571.02)" font-size="50" font-weight="normal" stroke="#000" stroke-width="1.4" >500</text>
<text transform="matrix(1.0189,0,0,1.0143,240.30,679.59)" font-size="50" font-weight="normal" stroke="#000" stroke-width="1.4" >400</text>
<text transform="matrix(0.9913,0,0,1.0229,320.11,733.88)" font-size="50" font-weight="normal" stroke="#000" stroke-width="1.4" >0</text>
<text transform="matrix(1.0822,0,0,1.0229,454.27,733.88)" font-size="50" font-weight="normal" stroke="#000" stroke-width="1.4" >10</text>
<text transform="matrix(1.0596,0,0,1.0229,610.48,733.88)" font-size="50" font-weight="normal" stroke="#000" stroke-width="1.4" >20</text>
<text transform="matrix(1.0787,0,0,1.0229,759.94,733.88)" font-size="50" font-weight="normal" stroke="#000" stroke-width="1.4" >30</text>
<text transform="matrix(1.2375,0,0,1.0567,656.49,342.20)" font-size="92" font-weight="bold" letter-spacing="-9">II</text>
<text transform="matrix(0,-1.0282,0.9792,0,412.05,343.56)" font-size="54" font-weight="bold" >I/μA</text>
<text transform="matrix(1.0655,0,0,1.0143,456.70,522.07)" font-size="40"  ><tspan font-weight="bold">y</tspan><tspan stroke="#000" stroke-width="1.0"> =  24.72x+326.65</tspan></text>
<text transform="matrix(1.1059,0,0,1.1885,529.79,577.80)" font-size="40" font-weight="bold" >R² = 0.9811</text>
<text transform="matrix(1.2064,0,0,1.0735,533.00,630.40)" font-size="46"  ><tspan font-weight="bold">v</tspan><tspan font-size="30" dy="-15" stroke="#000" stroke-width="1.0">1/2</tspan><tspan font-weight="bold" dy="15">/mVs</tspan><tspan font-size="30" dy="-15" stroke="#000" stroke-width="1.0">-1</tspan></text>
<text transform="matrix(1.0319,0,0,1.0286,237.24,842.47)" font-size="50" font-weight="normal" stroke="#000" stroke-width="1.4" >550</text>
<text transform="matrix(1.0203,0,0,0.9943,238.10,919.11)" font-size="50" font-weight="normal" stroke="#000" stroke-width="1.4" >450</text>
<text transform="matrix(1.0222,0,0,1.0257,237.36,1004.27)" font-size="50" font-weight="normal" stroke="#000" stroke-width="1.4" >350</text>
<text transform="matrix(1.0347,0,0,1.0257,236.43,1097.67)" font-size="50" font-weight="normal" stroke="#000" stroke-width="1.4" >250</text>
<text transform="matrix(1.0514,0,0,1.0229,235.19,1190.08)" font-size="50" font-weight="normal" stroke="#000" stroke-width="1.4" >150</text>
<text transform="matrix(1.0234,0,0,1.0257,262.85,1277.87)" font-size="50" font-weight="normal" stroke="#000" stroke-width="1.4" >50</text>
<text transform="matrix(0.9870,0,0,1.0143,318.51,1325.49)" font-size="50" font-weight="normal" stroke="#000" stroke-width="1.4" >0</text>
<text transform="matrix(1.0686,0,0,1.0143,402.93,1325.49)" font-size="50" font-weight="normal" stroke="#000" stroke-width="1.4" >100</text>
<text transform="matrix(1.0611,0,0,1.0143,515.58,1325.49)" font-size="50" font-weight="normal" stroke="#000" stroke-width="1.4" >200</text>
<text transform="matrix(1.0375,0,0,1.0143,629.42,1325.49)" font-size="50" font-weight="normal" stroke="#000" stroke-width="1.4" >300</text>
<text transform="matrix(1.0108,0,0,1.0143,743.60,1325.49)" font-size="50" font-weight="normal" stroke="#000" stroke-width="1.4" >400</text>
<text transform="matrix(1.2733,0,0,1.0767,705.08,925.60)" font-size="92" font-weight="bold" >I</text>
<text transform="matrix(0,-1.0194,0.9917,0,414.30,937.24)" font-size="54" font-weight="bold" >I/μA</text>
<text transform="matrix(1.0505,0,0,0.9200,431.80,1112.22)" font-size="40"  ><tspan font-weight="bold">y =</tspan><tspan stroke="#000" stroke-width="1.0"> 1.0061x+126.71</tspan></text>
<text transform="matrix(1.1093,0,0,1.1154,545.59,1176.30)" font-size="40" font-weight="bold" >R² = 0.98</text>
<text transform="matrix(1.1966,0,0,1.0735,552.00,1230.00)" font-size="46"  ><tspan font-weight="bold">v/mVs</tspan><tspan font-size="30" dy="-15" stroke="#000" stroke-width="1.0">-1</tspan></text>
</g>
</svg></body></html>
